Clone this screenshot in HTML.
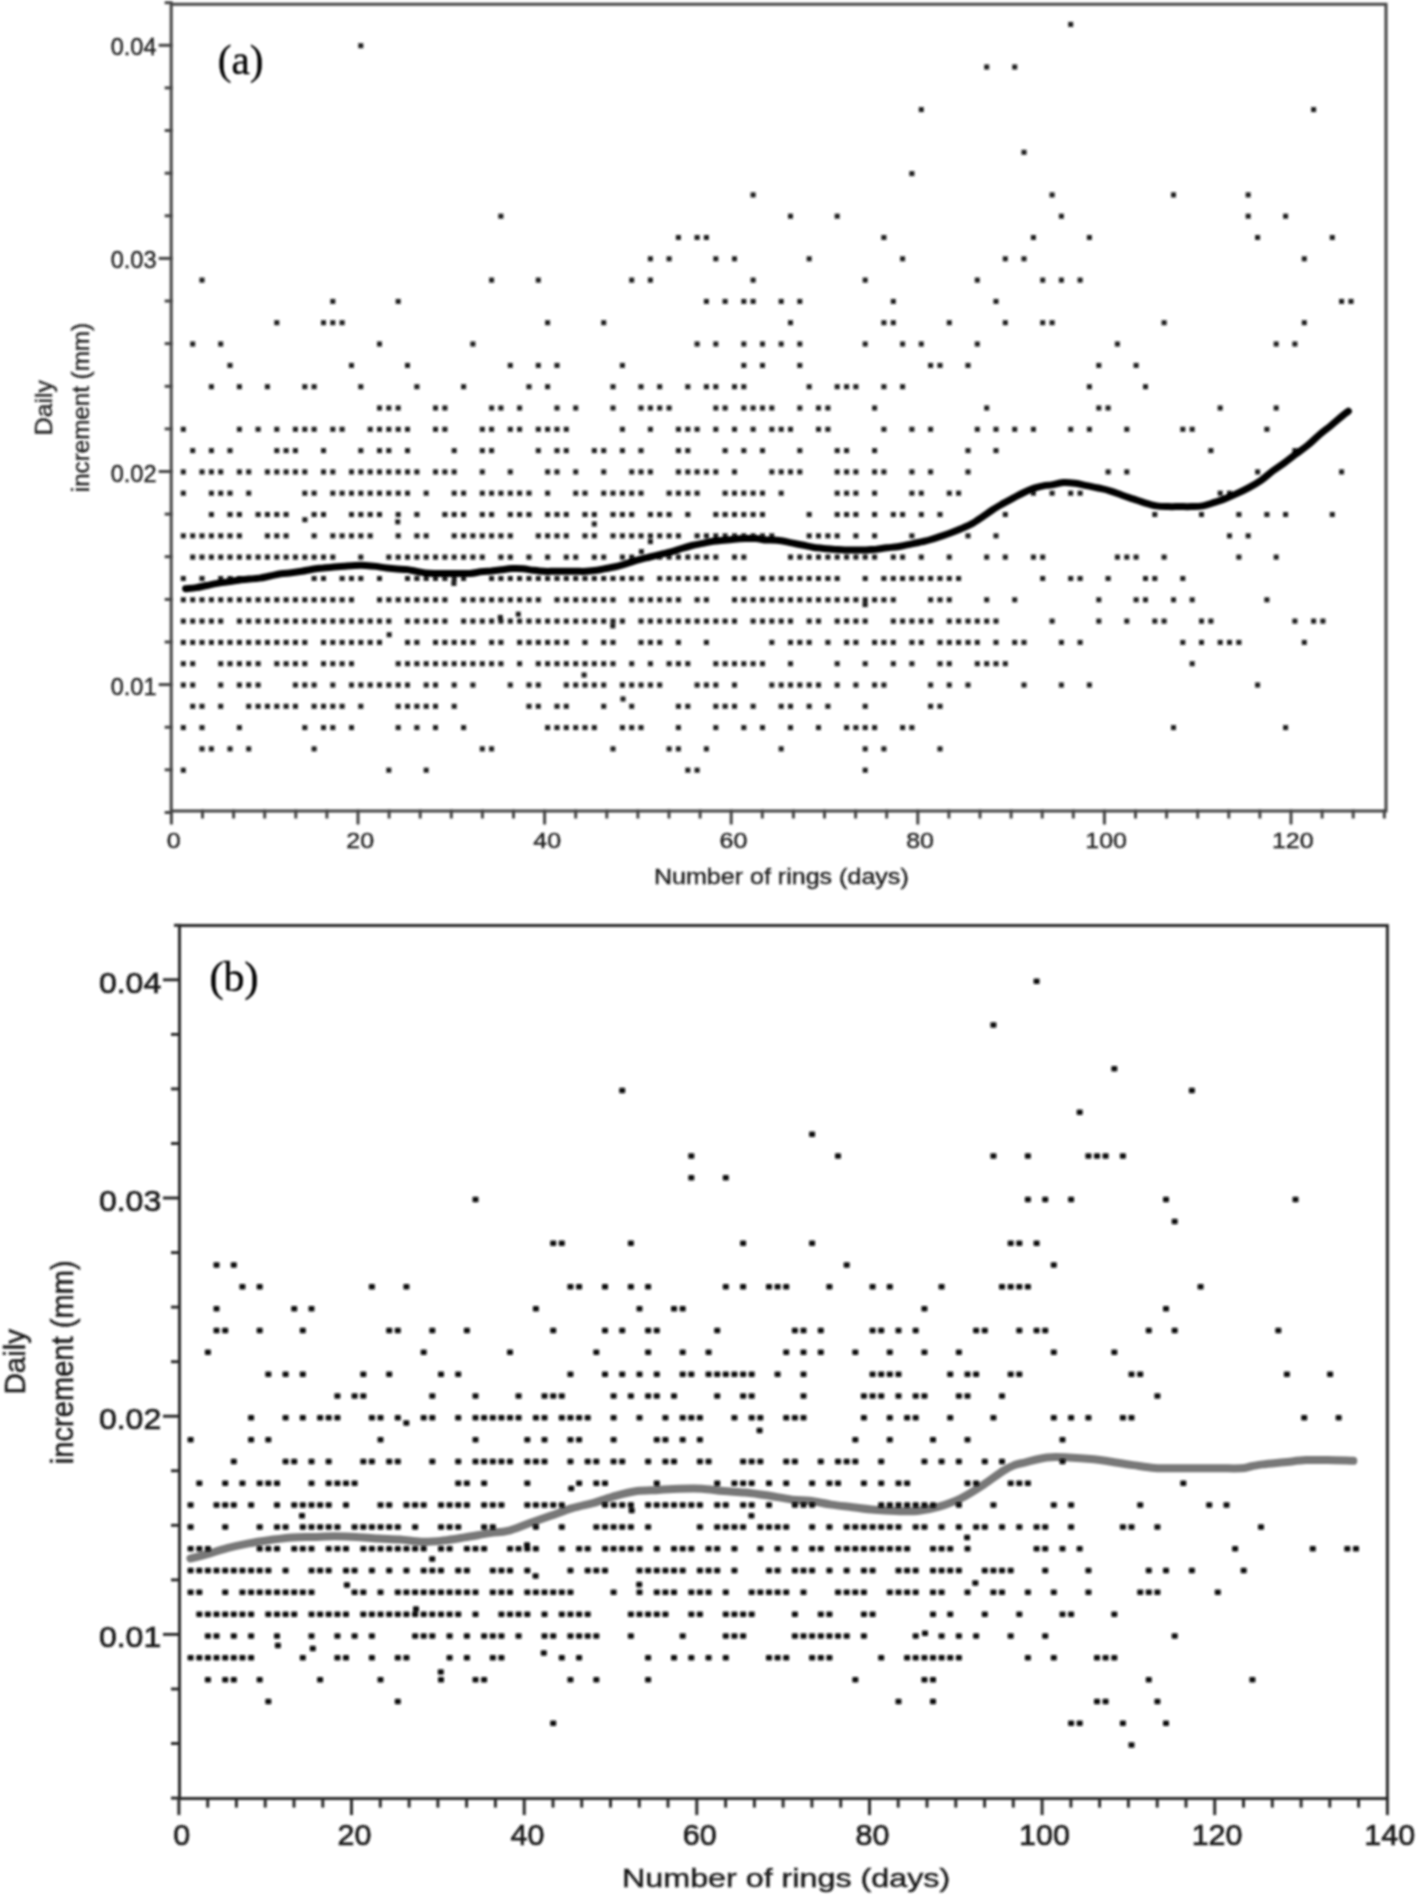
<!DOCTYPE html><html><head><meta charset="utf-8"><style>html,body{margin:0;padding:0;background:#fff;overflow:hidden}svg{display:block}</style></head><body>
<svg width="1418" height="1897" viewBox="0 0 1418 1897">
<defs><filter id="gblur" x="0" y="0" width="1418" height="1897" filterUnits="userSpaceOnUse"><feGaussianBlur stdDeviation="0.9"/></filter></defs>
<rect width="1418" height="1897" fill="#fff"/>
<g filter="url(#gblur)">
<g stroke="#444" stroke-width="3" fill="none" stroke-linecap="square">
<path d="M171.2,811.0 V4.3 H1386.0 V811.0 H171.2"/>
<line x1="166.2" y1="812.5" x2="171.2" y2="812.5"/>
<line x1="166.2" y1="769.8" x2="171.2" y2="769.8"/>
<line x1="166.2" y1="727.2" x2="171.2" y2="727.2"/>
<line x1="160.2" y1="684.6" x2="171.2" y2="684.6"/>
<line x1="166.2" y1="642.0" x2="171.2" y2="642.0"/>
<line x1="166.2" y1="599.4" x2="171.2" y2="599.4"/>
<line x1="166.2" y1="556.7" x2="171.2" y2="556.7"/>
<line x1="166.2" y1="514.1" x2="171.2" y2="514.1"/>
<line x1="160.2" y1="471.5" x2="171.2" y2="471.5"/>
<line x1="166.2" y1="428.9" x2="171.2" y2="428.9"/>
<line x1="166.2" y1="386.3" x2="171.2" y2="386.3"/>
<line x1="166.2" y1="343.6" x2="171.2" y2="343.6"/>
<line x1="166.2" y1="301.0" x2="171.2" y2="301.0"/>
<line x1="160.2" y1="258.4" x2="171.2" y2="258.4"/>
<line x1="166.2" y1="215.8" x2="171.2" y2="215.8"/>
<line x1="166.2" y1="173.2" x2="171.2" y2="173.2"/>
<line x1="166.2" y1="130.5" x2="171.2" y2="130.5"/>
<line x1="166.2" y1="87.9" x2="171.2" y2="87.9"/>
<line x1="160.2" y1="45.3" x2="171.2" y2="45.3"/>
<line x1="166.2" y1="2.7" x2="171.2" y2="2.7"/>
<line x1="171.4" y1="811.0" x2="171.4" y2="823.0"/>
<line x1="202.5" y1="811.0" x2="202.5" y2="817.0"/>
<line x1="233.6" y1="811.0" x2="233.6" y2="817.0"/>
<line x1="264.7" y1="811.0" x2="264.7" y2="817.0"/>
<line x1="295.8" y1="811.0" x2="295.8" y2="817.0"/>
<line x1="326.9" y1="811.0" x2="326.9" y2="817.0"/>
<line x1="358.0" y1="811.0" x2="358.0" y2="823.0"/>
<line x1="389.1" y1="811.0" x2="389.1" y2="817.0"/>
<line x1="420.2" y1="811.0" x2="420.2" y2="817.0"/>
<line x1="451.3" y1="811.0" x2="451.3" y2="817.0"/>
<line x1="482.4" y1="811.0" x2="482.4" y2="817.0"/>
<line x1="513.5" y1="811.0" x2="513.5" y2="817.0"/>
<line x1="544.6" y1="811.0" x2="544.6" y2="823.0"/>
<line x1="575.7" y1="811.0" x2="575.7" y2="817.0"/>
<line x1="606.8" y1="811.0" x2="606.8" y2="817.0"/>
<line x1="637.9" y1="811.0" x2="637.9" y2="817.0"/>
<line x1="669.0" y1="811.0" x2="669.0" y2="817.0"/>
<line x1="700.1" y1="811.0" x2="700.1" y2="817.0"/>
<line x1="731.2" y1="811.0" x2="731.2" y2="823.0"/>
<line x1="762.3" y1="811.0" x2="762.3" y2="817.0"/>
<line x1="793.4" y1="811.0" x2="793.4" y2="817.0"/>
<line x1="824.5" y1="811.0" x2="824.5" y2="817.0"/>
<line x1="855.6" y1="811.0" x2="855.6" y2="817.0"/>
<line x1="886.7" y1="811.0" x2="886.7" y2="817.0"/>
<line x1="917.8" y1="811.0" x2="917.8" y2="823.0"/>
<line x1="948.9" y1="811.0" x2="948.9" y2="817.0"/>
<line x1="980.0" y1="811.0" x2="980.0" y2="817.0"/>
<line x1="1011.1" y1="811.0" x2="1011.1" y2="817.0"/>
<line x1="1042.2" y1="811.0" x2="1042.2" y2="817.0"/>
<line x1="1073.3" y1="811.0" x2="1073.3" y2="817.0"/>
<line x1="1104.4" y1="811.0" x2="1104.4" y2="823.0"/>
<line x1="1135.5" y1="811.0" x2="1135.5" y2="817.0"/>
<line x1="1166.6" y1="811.0" x2="1166.6" y2="817.0"/>
<line x1="1197.7" y1="811.0" x2="1197.7" y2="817.0"/>
<line x1="1228.8" y1="811.0" x2="1228.8" y2="817.0"/>
<line x1="1259.9" y1="811.0" x2="1259.9" y2="817.0"/>
<line x1="1291.0" y1="811.0" x2="1291.0" y2="823.0"/>
<line x1="1322.1" y1="811.0" x2="1322.1" y2="817.0"/>
<line x1="1353.2" y1="811.0" x2="1353.2" y2="817.0"/>
<line x1="1384.3" y1="811.0" x2="1384.3" y2="817.0"/>
</g>
<text font-family="Liberation Sans" font-size="23.66" fill="#1a1a1a" stroke="#1a1a1a" stroke-width="0.35" transform="translate(110.66,694.66) scale(0.9952,1)" >0.01</text>
<text font-family="Liberation Sans" font-size="23.66" fill="#1a1a1a" stroke="#1a1a1a" stroke-width="0.35" transform="translate(110.66,481.56) scale(0.9952,1)" >0.02</text>
<text font-family="Liberation Sans" font-size="23.66" fill="#1a1a1a" stroke="#1a1a1a" stroke-width="0.35" transform="translate(110.66,268.46) scale(0.9952,1)" >0.03</text>
<text font-family="Liberation Sans" font-size="23.66" fill="#1a1a1a" stroke="#1a1a1a" stroke-width="0.35" transform="translate(110.66,55.36) scale(0.9952,1)" >0.04</text>
<text font-family="Liberation Sans" font-size="22.39" fill="#1a1a1a" stroke="#1a1a1a" stroke-width="0.35" transform="translate(166.70,848.48) scale(1.1164,1)" >0</text>
<text font-family="Liberation Sans" font-size="22.39" fill="#1a1a1a" stroke="#1a1a1a" stroke-width="0.35" transform="translate(346.30,848.48) scale(1.1164,1)" >20</text>
<text font-family="Liberation Sans" font-size="22.39" fill="#1a1a1a" stroke="#1a1a1a" stroke-width="0.35" transform="translate(533.27,848.48) scale(1.1164,1)" >40</text>
<text font-family="Liberation Sans" font-size="22.39" fill="#1a1a1a" stroke="#1a1a1a" stroke-width="0.35" transform="translate(719.50,848.48) scale(1.1164,1)" >60</text>
<text font-family="Liberation Sans" font-size="22.39" fill="#1a1a1a" stroke="#1a1a1a" stroke-width="0.35" transform="translate(906.22,848.48) scale(1.1164,1)" >80</text>
<text font-family="Liberation Sans" font-size="22.39" fill="#1a1a1a" stroke="#1a1a1a" stroke-width="0.35" transform="translate(1085.33,848.48) scale(1.1164,1)" >100</text>
<text font-family="Liberation Sans" font-size="22.39" fill="#1a1a1a" stroke="#1a1a1a" stroke-width="0.35" transform="translate(1271.92,848.48) scale(1.1164,1)" >120</text>
<text font-family="Liberation Sans" font-size="21.70" fill="#1a1a1a" stroke="#1a1a1a" stroke-width="0.35" transform="translate(653.89,884.04) scale(1.1549,1)" >Number of rings (days)</text>
<text font-family="Liberation Sans" font-size="23.40" fill="#1a1a1a" stroke="#1a1a1a" stroke-width="0.35" transform="translate(51.89,435.19) rotate(-90) scale(1.0602,1)" >Daily</text>
<text font-family="Liberation Sans" font-size="23.09" fill="#1a1a1a" stroke="#1a1a1a" stroke-width="0.35" transform="translate(89.35,492.19) rotate(-90) scale(1.0467,1)" >increment (mm)</text>
<text font-family="Liberation Serif" font-size="41.67" fill="#000" stroke="#000" stroke-width="0.35" transform="translate(217.65,74.25) scale(0.9903,1)" >(a)</text>
<g fill="#1a1a1a">
<rect x="358.3" y="43.2" width="5" height="5"/>
<rect x="498.4" y="213.7" width="5" height="5"/>
<rect x="750.6" y="192.4" width="5" height="5"/>
<rect x="675.9" y="235.0" width="5" height="5"/>
<rect x="694.6" y="235.0" width="5" height="5"/>
<rect x="703.9" y="235.0" width="5" height="5"/>
<rect x="647.9" y="256.3" width="5" height="5"/>
<rect x="666.6" y="256.3" width="5" height="5"/>
<rect x="713.3" y="256.3" width="5" height="5"/>
<rect x="732.0" y="256.3" width="5" height="5"/>
<rect x="1068.2" y="21.9" width="5" height="5"/>
<rect x="984.2" y="64.5" width="5" height="5"/>
<rect x="1012.2" y="64.5" width="5" height="5"/>
<rect x="918.8" y="107.1" width="5" height="5"/>
<rect x="1311.1" y="107.1" width="5" height="5"/>
<rect x="1021.5" y="149.8" width="5" height="5"/>
<rect x="909.4" y="171.1" width="5" height="5"/>
<rect x="1049.6" y="192.4" width="5" height="5"/>
<rect x="1171.0" y="192.4" width="5" height="5"/>
<rect x="1245.7" y="192.4" width="5" height="5"/>
<rect x="788.0" y="213.7" width="5" height="5"/>
<rect x="834.7" y="213.7" width="5" height="5"/>
<rect x="1058.9" y="213.7" width="5" height="5"/>
<rect x="1245.7" y="213.7" width="5" height="5"/>
<rect x="1283.1" y="213.7" width="5" height="5"/>
<rect x="881.4" y="235.0" width="5" height="5"/>
<rect x="1030.9" y="235.0" width="5" height="5"/>
<rect x="1086.9" y="235.0" width="5" height="5"/>
<rect x="1255.1" y="235.0" width="5" height="5"/>
<rect x="1329.8" y="235.0" width="5" height="5"/>
<rect x="806.7" y="256.3" width="5" height="5"/>
<rect x="900.1" y="256.3" width="5" height="5"/>
<rect x="1002.8" y="256.3" width="5" height="5"/>
<rect x="1021.5" y="256.3" width="5" height="5"/>
<rect x="1301.8" y="256.3" width="5" height="5"/>
<rect x="199.5" y="277.6" width="5" height="5"/>
<rect x="330.3" y="298.9" width="5" height="5"/>
<rect x="395.7" y="298.9" width="5" height="5"/>
<rect x="274.3" y="320.2" width="5" height="5"/>
<rect x="321.0" y="320.2" width="5" height="5"/>
<rect x="330.3" y="320.2" width="5" height="5"/>
<rect x="339.6" y="320.2" width="5" height="5"/>
<rect x="190.2" y="341.5" width="5" height="5"/>
<rect x="218.2" y="341.5" width="5" height="5"/>
<rect x="377.0" y="341.5" width="5" height="5"/>
<rect x="470.4" y="341.5" width="5" height="5"/>
<rect x="227.5" y="362.9" width="5" height="5"/>
<rect x="349.0" y="362.9" width="5" height="5"/>
<rect x="405.0" y="362.9" width="5" height="5"/>
<rect x="208.9" y="384.2" width="5" height="5"/>
<rect x="236.9" y="384.2" width="5" height="5"/>
<rect x="264.9" y="384.2" width="5" height="5"/>
<rect x="302.3" y="384.2" width="5" height="5"/>
<rect x="311.6" y="384.2" width="5" height="5"/>
<rect x="358.3" y="384.2" width="5" height="5"/>
<rect x="414.4" y="384.2" width="5" height="5"/>
<rect x="461.1" y="384.2" width="5" height="5"/>
<rect x="377.0" y="405.5" width="5" height="5"/>
<rect x="386.3" y="405.5" width="5" height="5"/>
<rect x="395.7" y="405.5" width="5" height="5"/>
<rect x="433.0" y="405.5" width="5" height="5"/>
<rect x="442.4" y="405.5" width="5" height="5"/>
<rect x="180.8" y="426.8" width="5" height="5"/>
<rect x="236.9" y="426.8" width="5" height="5"/>
<rect x="255.6" y="426.8" width="5" height="5"/>
<rect x="274.3" y="426.8" width="5" height="5"/>
<rect x="292.9" y="426.8" width="5" height="5"/>
<rect x="302.3" y="426.8" width="5" height="5"/>
<rect x="311.6" y="426.8" width="5" height="5"/>
<rect x="330.3" y="426.8" width="5" height="5"/>
<rect x="339.6" y="426.8" width="5" height="5"/>
<rect x="367.7" y="426.8" width="5" height="5"/>
<rect x="377.0" y="426.8" width="5" height="5"/>
<rect x="386.3" y="426.8" width="5" height="5"/>
<rect x="395.7" y="426.8" width="5" height="5"/>
<rect x="405.0" y="426.8" width="5" height="5"/>
<rect x="433.0" y="426.8" width="5" height="5"/>
<rect x="442.4" y="426.8" width="5" height="5"/>
<rect x="489.1" y="277.6" width="5" height="5"/>
<rect x="535.8" y="277.6" width="5" height="5"/>
<rect x="629.2" y="277.6" width="5" height="5"/>
<rect x="647.9" y="277.6" width="5" height="5"/>
<rect x="750.6" y="277.6" width="5" height="5"/>
<rect x="703.9" y="298.9" width="5" height="5"/>
<rect x="722.6" y="298.9" width="5" height="5"/>
<rect x="741.3" y="298.9" width="5" height="5"/>
<rect x="750.6" y="298.9" width="5" height="5"/>
<rect x="545.1" y="320.2" width="5" height="5"/>
<rect x="601.2" y="320.2" width="5" height="5"/>
<rect x="694.6" y="341.5" width="5" height="5"/>
<rect x="713.3" y="341.5" width="5" height="5"/>
<rect x="741.3" y="341.5" width="5" height="5"/>
<rect x="760.0" y="341.5" width="5" height="5"/>
<rect x="507.8" y="362.9" width="5" height="5"/>
<rect x="535.8" y="362.9" width="5" height="5"/>
<rect x="554.5" y="362.9" width="5" height="5"/>
<rect x="619.9" y="362.9" width="5" height="5"/>
<rect x="741.3" y="362.9" width="5" height="5"/>
<rect x="760.0" y="362.9" width="5" height="5"/>
<rect x="526.5" y="384.2" width="5" height="5"/>
<rect x="545.1" y="384.2" width="5" height="5"/>
<rect x="610.5" y="384.2" width="5" height="5"/>
<rect x="638.5" y="384.2" width="5" height="5"/>
<rect x="657.2" y="384.2" width="5" height="5"/>
<rect x="685.3" y="384.2" width="5" height="5"/>
<rect x="703.9" y="384.2" width="5" height="5"/>
<rect x="713.3" y="384.2" width="5" height="5"/>
<rect x="732.0" y="384.2" width="5" height="5"/>
<rect x="741.3" y="384.2" width="5" height="5"/>
<rect x="489.1" y="405.5" width="5" height="5"/>
<rect x="498.4" y="405.5" width="5" height="5"/>
<rect x="517.1" y="405.5" width="5" height="5"/>
<rect x="554.5" y="405.5" width="5" height="5"/>
<rect x="573.2" y="405.5" width="5" height="5"/>
<rect x="610.5" y="405.5" width="5" height="5"/>
<rect x="638.5" y="405.5" width="5" height="5"/>
<rect x="647.9" y="405.5" width="5" height="5"/>
<rect x="657.2" y="405.5" width="5" height="5"/>
<rect x="666.6" y="405.5" width="5" height="5"/>
<rect x="713.3" y="405.5" width="5" height="5"/>
<rect x="722.6" y="405.5" width="5" height="5"/>
<rect x="741.3" y="405.5" width="5" height="5"/>
<rect x="750.6" y="405.5" width="5" height="5"/>
<rect x="760.0" y="405.5" width="5" height="5"/>
<rect x="769.3" y="405.5" width="5" height="5"/>
<rect x="479.8" y="426.8" width="5" height="5"/>
<rect x="489.1" y="426.8" width="5" height="5"/>
<rect x="507.8" y="426.8" width="5" height="5"/>
<rect x="517.1" y="426.8" width="5" height="5"/>
<rect x="535.8" y="426.8" width="5" height="5"/>
<rect x="545.1" y="426.8" width="5" height="5"/>
<rect x="554.5" y="426.8" width="5" height="5"/>
<rect x="563.8" y="426.8" width="5" height="5"/>
<rect x="619.9" y="426.8" width="5" height="5"/>
<rect x="647.9" y="426.8" width="5" height="5"/>
<rect x="675.9" y="426.8" width="5" height="5"/>
<rect x="685.3" y="426.8" width="5" height="5"/>
<rect x="694.6" y="426.8" width="5" height="5"/>
<rect x="713.3" y="426.8" width="5" height="5"/>
<rect x="732.0" y="426.8" width="5" height="5"/>
<rect x="750.6" y="426.8" width="5" height="5"/>
<rect x="769.3" y="426.8" width="5" height="5"/>
<rect x="862.7" y="277.6" width="5" height="5"/>
<rect x="974.8" y="277.6" width="5" height="5"/>
<rect x="1040.2" y="277.6" width="5" height="5"/>
<rect x="1058.9" y="277.6" width="5" height="5"/>
<rect x="778.7" y="298.9" width="5" height="5"/>
<rect x="797.3" y="298.9" width="5" height="5"/>
<rect x="890.8" y="298.9" width="5" height="5"/>
<rect x="993.5" y="298.9" width="5" height="5"/>
<rect x="788.0" y="320.2" width="5" height="5"/>
<rect x="881.4" y="320.2" width="5" height="5"/>
<rect x="890.8" y="320.2" width="5" height="5"/>
<rect x="946.8" y="320.2" width="5" height="5"/>
<rect x="1002.8" y="320.2" width="5" height="5"/>
<rect x="1040.2" y="320.2" width="5" height="5"/>
<rect x="1049.6" y="320.2" width="5" height="5"/>
<rect x="778.7" y="341.5" width="5" height="5"/>
<rect x="797.3" y="341.5" width="5" height="5"/>
<rect x="862.7" y="341.5" width="5" height="5"/>
<rect x="900.1" y="341.5" width="5" height="5"/>
<rect x="918.8" y="341.5" width="5" height="5"/>
<rect x="974.8" y="341.5" width="5" height="5"/>
<rect x="797.3" y="362.9" width="5" height="5"/>
<rect x="928.1" y="362.9" width="5" height="5"/>
<rect x="937.5" y="362.9" width="5" height="5"/>
<rect x="965.5" y="362.9" width="5" height="5"/>
<rect x="806.7" y="384.2" width="5" height="5"/>
<rect x="834.7" y="384.2" width="5" height="5"/>
<rect x="844.1" y="384.2" width="5" height="5"/>
<rect x="853.4" y="384.2" width="5" height="5"/>
<rect x="881.4" y="384.2" width="5" height="5"/>
<rect x="900.1" y="384.2" width="5" height="5"/>
<rect x="797.3" y="405.5" width="5" height="5"/>
<rect x="816.0" y="405.5" width="5" height="5"/>
<rect x="825.4" y="405.5" width="5" height="5"/>
<rect x="872.1" y="405.5" width="5" height="5"/>
<rect x="984.2" y="405.5" width="5" height="5"/>
<rect x="778.7" y="426.8" width="5" height="5"/>
<rect x="788.0" y="426.8" width="5" height="5"/>
<rect x="816.0" y="426.8" width="5" height="5"/>
<rect x="825.4" y="426.8" width="5" height="5"/>
<rect x="881.4" y="426.8" width="5" height="5"/>
<rect x="909.4" y="426.8" width="5" height="5"/>
<rect x="928.1" y="426.8" width="5" height="5"/>
<rect x="974.8" y="426.8" width="5" height="5"/>
<rect x="993.5" y="426.8" width="5" height="5"/>
<rect x="1012.2" y="426.8" width="5" height="5"/>
<rect x="1030.9" y="426.8" width="5" height="5"/>
<rect x="1068.2" y="426.8" width="5" height="5"/>
<rect x="1077.6" y="277.6" width="5" height="5"/>
<rect x="1339.1" y="298.9" width="5" height="5"/>
<rect x="1348.5" y="298.9" width="5" height="5"/>
<rect x="1161.6" y="320.2" width="5" height="5"/>
<rect x="1301.8" y="320.2" width="5" height="5"/>
<rect x="1114.9" y="341.5" width="5" height="5"/>
<rect x="1273.7" y="341.5" width="5" height="5"/>
<rect x="1292.4" y="341.5" width="5" height="5"/>
<rect x="1096.3" y="362.9" width="5" height="5"/>
<rect x="1133.6" y="362.9" width="5" height="5"/>
<rect x="1086.9" y="384.2" width="5" height="5"/>
<rect x="1143.0" y="384.2" width="5" height="5"/>
<rect x="1096.3" y="405.5" width="5" height="5"/>
<rect x="1105.6" y="405.5" width="5" height="5"/>
<rect x="1217.7" y="405.5" width="5" height="5"/>
<rect x="1273.7" y="405.5" width="5" height="5"/>
<rect x="1086.9" y="426.8" width="5" height="5"/>
<rect x="1124.3" y="426.8" width="5" height="5"/>
<rect x="1180.3" y="426.8" width="5" height="5"/>
<rect x="1189.7" y="426.8" width="5" height="5"/>
<rect x="1264.4" y="426.8" width="5" height="5"/>
<rect x="190.2" y="448.1" width="5" height="5"/>
<rect x="208.9" y="448.1" width="5" height="5"/>
<rect x="227.5" y="448.1" width="5" height="5"/>
<rect x="274.3" y="448.1" width="5" height="5"/>
<rect x="283.6" y="448.1" width="5" height="5"/>
<rect x="292.9" y="448.1" width="5" height="5"/>
<rect x="321.0" y="448.1" width="5" height="5"/>
<rect x="358.3" y="448.1" width="5" height="5"/>
<rect x="377.0" y="448.1" width="5" height="5"/>
<rect x="386.3" y="448.1" width="5" height="5"/>
<rect x="405.0" y="448.1" width="5" height="5"/>
<rect x="451.7" y="448.1" width="5" height="5"/>
<rect x="180.8" y="469.4" width="5" height="5"/>
<rect x="199.5" y="469.4" width="5" height="5"/>
<rect x="208.9" y="469.4" width="5" height="5"/>
<rect x="218.2" y="469.4" width="5" height="5"/>
<rect x="236.9" y="469.4" width="5" height="5"/>
<rect x="246.2" y="469.4" width="5" height="5"/>
<rect x="264.9" y="469.4" width="5" height="5"/>
<rect x="274.3" y="469.4" width="5" height="5"/>
<rect x="283.6" y="469.4" width="5" height="5"/>
<rect x="292.9" y="469.4" width="5" height="5"/>
<rect x="302.3" y="469.4" width="5" height="5"/>
<rect x="321.0" y="469.4" width="5" height="5"/>
<rect x="330.3" y="469.4" width="5" height="5"/>
<rect x="349.0" y="469.4" width="5" height="5"/>
<rect x="358.3" y="469.4" width="5" height="5"/>
<rect x="367.7" y="469.4" width="5" height="5"/>
<rect x="377.0" y="469.4" width="5" height="5"/>
<rect x="386.3" y="469.4" width="5" height="5"/>
<rect x="395.7" y="469.4" width="5" height="5"/>
<rect x="405.0" y="469.4" width="5" height="5"/>
<rect x="414.4" y="469.4" width="5" height="5"/>
<rect x="433.0" y="469.4" width="5" height="5"/>
<rect x="442.4" y="469.4" width="5" height="5"/>
<rect x="451.7" y="469.4" width="5" height="5"/>
<rect x="180.8" y="490.7" width="5" height="5"/>
<rect x="208.9" y="490.7" width="5" height="5"/>
<rect x="218.2" y="490.7" width="5" height="5"/>
<rect x="227.5" y="490.7" width="5" height="5"/>
<rect x="246.2" y="490.7" width="5" height="5"/>
<rect x="302.3" y="490.7" width="5" height="5"/>
<rect x="311.6" y="490.7" width="5" height="5"/>
<rect x="330.3" y="490.7" width="5" height="5"/>
<rect x="339.6" y="490.7" width="5" height="5"/>
<rect x="349.0" y="490.7" width="5" height="5"/>
<rect x="358.3" y="490.7" width="5" height="5"/>
<rect x="367.7" y="490.7" width="5" height="5"/>
<rect x="377.0" y="490.7" width="5" height="5"/>
<rect x="386.3" y="490.7" width="5" height="5"/>
<rect x="395.7" y="490.7" width="5" height="5"/>
<rect x="405.0" y="490.7" width="5" height="5"/>
<rect x="423.7" y="490.7" width="5" height="5"/>
<rect x="451.7" y="490.7" width="5" height="5"/>
<rect x="461.1" y="490.7" width="5" height="5"/>
<rect x="208.9" y="512.0" width="5" height="5"/>
<rect x="227.5" y="512.0" width="5" height="5"/>
<rect x="236.9" y="512.0" width="5" height="5"/>
<rect x="255.6" y="512.0" width="5" height="5"/>
<rect x="264.9" y="512.0" width="5" height="5"/>
<rect x="274.3" y="512.0" width="5" height="5"/>
<rect x="283.6" y="512.0" width="5" height="5"/>
<rect x="311.6" y="512.0" width="5" height="5"/>
<rect x="321.0" y="512.0" width="5" height="5"/>
<rect x="349.0" y="512.0" width="5" height="5"/>
<rect x="358.3" y="512.0" width="5" height="5"/>
<rect x="367.7" y="512.0" width="5" height="5"/>
<rect x="377.0" y="512.0" width="5" height="5"/>
<rect x="395.7" y="512.0" width="5" height="5"/>
<rect x="414.4" y="512.0" width="5" height="5"/>
<rect x="442.4" y="512.0" width="5" height="5"/>
<rect x="451.7" y="512.0" width="5" height="5"/>
<rect x="461.1" y="512.0" width="5" height="5"/>
<rect x="180.8" y="533.3" width="5" height="5"/>
<rect x="190.2" y="533.3" width="5" height="5"/>
<rect x="199.5" y="533.3" width="5" height="5"/>
<rect x="208.9" y="533.3" width="5" height="5"/>
<rect x="218.2" y="533.3" width="5" height="5"/>
<rect x="227.5" y="533.3" width="5" height="5"/>
<rect x="236.9" y="533.3" width="5" height="5"/>
<rect x="264.9" y="533.3" width="5" height="5"/>
<rect x="274.3" y="533.3" width="5" height="5"/>
<rect x="283.6" y="533.3" width="5" height="5"/>
<rect x="311.6" y="533.3" width="5" height="5"/>
<rect x="330.3" y="533.3" width="5" height="5"/>
<rect x="339.6" y="533.3" width="5" height="5"/>
<rect x="349.0" y="533.3" width="5" height="5"/>
<rect x="358.3" y="533.3" width="5" height="5"/>
<rect x="367.7" y="533.3" width="5" height="5"/>
<rect x="395.7" y="533.3" width="5" height="5"/>
<rect x="414.4" y="533.3" width="5" height="5"/>
<rect x="423.7" y="533.3" width="5" height="5"/>
<rect x="451.7" y="533.3" width="5" height="5"/>
<rect x="461.1" y="533.3" width="5" height="5"/>
<rect x="470.4" y="533.3" width="5" height="5"/>
<rect x="190.2" y="554.6" width="5" height="5"/>
<rect x="199.5" y="554.6" width="5" height="5"/>
<rect x="208.9" y="554.6" width="5" height="5"/>
<rect x="218.2" y="554.6" width="5" height="5"/>
<rect x="227.5" y="554.6" width="5" height="5"/>
<rect x="236.9" y="554.6" width="5" height="5"/>
<rect x="246.2" y="554.6" width="5" height="5"/>
<rect x="255.6" y="554.6" width="5" height="5"/>
<rect x="264.9" y="554.6" width="5" height="5"/>
<rect x="274.3" y="554.6" width="5" height="5"/>
<rect x="283.6" y="554.6" width="5" height="5"/>
<rect x="292.9" y="554.6" width="5" height="5"/>
<rect x="302.3" y="554.6" width="5" height="5"/>
<rect x="311.6" y="554.6" width="5" height="5"/>
<rect x="321.0" y="554.6" width="5" height="5"/>
<rect x="330.3" y="554.6" width="5" height="5"/>
<rect x="358.3" y="554.6" width="5" height="5"/>
<rect x="386.3" y="554.6" width="5" height="5"/>
<rect x="395.7" y="554.6" width="5" height="5"/>
<rect x="405.0" y="554.6" width="5" height="5"/>
<rect x="414.4" y="554.6" width="5" height="5"/>
<rect x="423.7" y="554.6" width="5" height="5"/>
<rect x="433.0" y="554.6" width="5" height="5"/>
<rect x="442.4" y="554.6" width="5" height="5"/>
<rect x="451.7" y="554.6" width="5" height="5"/>
<rect x="461.1" y="554.6" width="5" height="5"/>
<rect x="470.4" y="554.6" width="5" height="5"/>
<rect x="180.8" y="576.0" width="5" height="5"/>
<rect x="199.5" y="576.0" width="5" height="5"/>
<rect x="218.2" y="576.0" width="5" height="5"/>
<rect x="227.5" y="576.0" width="5" height="5"/>
<rect x="236.9" y="576.0" width="5" height="5"/>
<rect x="311.6" y="576.0" width="5" height="5"/>
<rect x="321.0" y="576.0" width="5" height="5"/>
<rect x="339.6" y="576.0" width="5" height="5"/>
<rect x="349.0" y="576.0" width="5" height="5"/>
<rect x="358.3" y="576.0" width="5" height="5"/>
<rect x="377.0" y="576.0" width="5" height="5"/>
<rect x="405.0" y="576.0" width="5" height="5"/>
<rect x="414.4" y="576.0" width="5" height="5"/>
<rect x="423.7" y="576.0" width="5" height="5"/>
<rect x="433.0" y="576.0" width="5" height="5"/>
<rect x="442.4" y="576.0" width="5" height="5"/>
<rect x="451.7" y="576.0" width="5" height="5"/>
<rect x="461.1" y="576.0" width="5" height="5"/>
<rect x="180.8" y="597.3" width="5" height="5"/>
<rect x="190.2" y="597.3" width="5" height="5"/>
<rect x="199.5" y="597.3" width="5" height="5"/>
<rect x="208.9" y="597.3" width="5" height="5"/>
<rect x="218.2" y="597.3" width="5" height="5"/>
<rect x="227.5" y="597.3" width="5" height="5"/>
<rect x="236.9" y="597.3" width="5" height="5"/>
<rect x="246.2" y="597.3" width="5" height="5"/>
<rect x="255.6" y="597.3" width="5" height="5"/>
<rect x="264.9" y="597.3" width="5" height="5"/>
<rect x="274.3" y="597.3" width="5" height="5"/>
<rect x="283.6" y="597.3" width="5" height="5"/>
<rect x="292.9" y="597.3" width="5" height="5"/>
<rect x="302.3" y="597.3" width="5" height="5"/>
<rect x="311.6" y="597.3" width="5" height="5"/>
<rect x="321.0" y="597.3" width="5" height="5"/>
<rect x="330.3" y="597.3" width="5" height="5"/>
<rect x="339.6" y="597.3" width="5" height="5"/>
<rect x="349.0" y="597.3" width="5" height="5"/>
<rect x="377.0" y="597.3" width="5" height="5"/>
<rect x="386.3" y="597.3" width="5" height="5"/>
<rect x="395.7" y="597.3" width="5" height="5"/>
<rect x="405.0" y="597.3" width="5" height="5"/>
<rect x="414.4" y="597.3" width="5" height="5"/>
<rect x="423.7" y="597.3" width="5" height="5"/>
<rect x="433.0" y="597.3" width="5" height="5"/>
<rect x="442.4" y="597.3" width="5" height="5"/>
<rect x="461.1" y="597.3" width="5" height="5"/>
<rect x="470.4" y="597.3" width="5" height="5"/>
<rect x="180.8" y="618.6" width="5" height="5"/>
<rect x="190.2" y="618.6" width="5" height="5"/>
<rect x="199.5" y="618.6" width="5" height="5"/>
<rect x="208.9" y="618.6" width="5" height="5"/>
<rect x="218.2" y="618.6" width="5" height="5"/>
<rect x="236.9" y="618.6" width="5" height="5"/>
<rect x="246.2" y="618.6" width="5" height="5"/>
<rect x="255.6" y="618.6" width="5" height="5"/>
<rect x="264.9" y="618.6" width="5" height="5"/>
<rect x="274.3" y="618.6" width="5" height="5"/>
<rect x="283.6" y="618.6" width="5" height="5"/>
<rect x="292.9" y="618.6" width="5" height="5"/>
<rect x="302.3" y="618.6" width="5" height="5"/>
<rect x="311.6" y="618.6" width="5" height="5"/>
<rect x="321.0" y="618.6" width="5" height="5"/>
<rect x="330.3" y="618.6" width="5" height="5"/>
<rect x="339.6" y="618.6" width="5" height="5"/>
<rect x="349.0" y="618.6" width="5" height="5"/>
<rect x="358.3" y="618.6" width="5" height="5"/>
<rect x="367.7" y="618.6" width="5" height="5"/>
<rect x="377.0" y="618.6" width="5" height="5"/>
<rect x="386.3" y="618.6" width="5" height="5"/>
<rect x="405.0" y="618.6" width="5" height="5"/>
<rect x="414.4" y="618.6" width="5" height="5"/>
<rect x="423.7" y="618.6" width="5" height="5"/>
<rect x="433.0" y="618.6" width="5" height="5"/>
<rect x="442.4" y="618.6" width="5" height="5"/>
<rect x="461.1" y="618.6" width="5" height="5"/>
<rect x="470.4" y="618.6" width="5" height="5"/>
<rect x="479.8" y="448.1" width="5" height="5"/>
<rect x="489.1" y="448.1" width="5" height="5"/>
<rect x="535.8" y="448.1" width="5" height="5"/>
<rect x="554.5" y="448.1" width="5" height="5"/>
<rect x="563.8" y="448.1" width="5" height="5"/>
<rect x="591.8" y="448.1" width="5" height="5"/>
<rect x="601.2" y="448.1" width="5" height="5"/>
<rect x="619.9" y="448.1" width="5" height="5"/>
<rect x="638.5" y="448.1" width="5" height="5"/>
<rect x="675.9" y="448.1" width="5" height="5"/>
<rect x="685.3" y="448.1" width="5" height="5"/>
<rect x="722.6" y="448.1" width="5" height="5"/>
<rect x="741.3" y="448.1" width="5" height="5"/>
<rect x="760.0" y="448.1" width="5" height="5"/>
<rect x="479.8" y="469.4" width="5" height="5"/>
<rect x="507.8" y="469.4" width="5" height="5"/>
<rect x="545.1" y="469.4" width="5" height="5"/>
<rect x="554.5" y="469.4" width="5" height="5"/>
<rect x="573.2" y="469.4" width="5" height="5"/>
<rect x="601.2" y="469.4" width="5" height="5"/>
<rect x="629.2" y="469.4" width="5" height="5"/>
<rect x="638.5" y="469.4" width="5" height="5"/>
<rect x="647.9" y="469.4" width="5" height="5"/>
<rect x="675.9" y="469.4" width="5" height="5"/>
<rect x="685.3" y="469.4" width="5" height="5"/>
<rect x="694.6" y="469.4" width="5" height="5"/>
<rect x="703.9" y="469.4" width="5" height="5"/>
<rect x="713.3" y="469.4" width="5" height="5"/>
<rect x="732.0" y="469.4" width="5" height="5"/>
<rect x="769.3" y="469.4" width="5" height="5"/>
<rect x="479.8" y="490.7" width="5" height="5"/>
<rect x="489.1" y="490.7" width="5" height="5"/>
<rect x="498.4" y="490.7" width="5" height="5"/>
<rect x="507.8" y="490.7" width="5" height="5"/>
<rect x="517.1" y="490.7" width="5" height="5"/>
<rect x="526.5" y="490.7" width="5" height="5"/>
<rect x="545.1" y="490.7" width="5" height="5"/>
<rect x="573.2" y="490.7" width="5" height="5"/>
<rect x="582.5" y="490.7" width="5" height="5"/>
<rect x="601.2" y="490.7" width="5" height="5"/>
<rect x="610.5" y="490.7" width="5" height="5"/>
<rect x="619.9" y="490.7" width="5" height="5"/>
<rect x="629.2" y="490.7" width="5" height="5"/>
<rect x="638.5" y="490.7" width="5" height="5"/>
<rect x="666.6" y="490.7" width="5" height="5"/>
<rect x="675.9" y="490.7" width="5" height="5"/>
<rect x="685.3" y="490.7" width="5" height="5"/>
<rect x="694.6" y="490.7" width="5" height="5"/>
<rect x="722.6" y="490.7" width="5" height="5"/>
<rect x="732.0" y="490.7" width="5" height="5"/>
<rect x="741.3" y="490.7" width="5" height="5"/>
<rect x="750.6" y="490.7" width="5" height="5"/>
<rect x="760.0" y="490.7" width="5" height="5"/>
<rect x="479.8" y="512.0" width="5" height="5"/>
<rect x="489.1" y="512.0" width="5" height="5"/>
<rect x="507.8" y="512.0" width="5" height="5"/>
<rect x="517.1" y="512.0" width="5" height="5"/>
<rect x="526.5" y="512.0" width="5" height="5"/>
<rect x="545.1" y="512.0" width="5" height="5"/>
<rect x="554.5" y="512.0" width="5" height="5"/>
<rect x="563.8" y="512.0" width="5" height="5"/>
<rect x="582.5" y="512.0" width="5" height="5"/>
<rect x="591.8" y="512.0" width="5" height="5"/>
<rect x="610.5" y="512.0" width="5" height="5"/>
<rect x="619.9" y="512.0" width="5" height="5"/>
<rect x="629.2" y="512.0" width="5" height="5"/>
<rect x="647.9" y="512.0" width="5" height="5"/>
<rect x="657.2" y="512.0" width="5" height="5"/>
<rect x="666.6" y="512.0" width="5" height="5"/>
<rect x="685.3" y="512.0" width="5" height="5"/>
<rect x="713.3" y="512.0" width="5" height="5"/>
<rect x="722.6" y="512.0" width="5" height="5"/>
<rect x="732.0" y="512.0" width="5" height="5"/>
<rect x="741.3" y="512.0" width="5" height="5"/>
<rect x="750.6" y="512.0" width="5" height="5"/>
<rect x="760.0" y="512.0" width="5" height="5"/>
<rect x="479.8" y="533.3" width="5" height="5"/>
<rect x="489.1" y="533.3" width="5" height="5"/>
<rect x="498.4" y="533.3" width="5" height="5"/>
<rect x="507.8" y="533.3" width="5" height="5"/>
<rect x="535.8" y="533.3" width="5" height="5"/>
<rect x="545.1" y="533.3" width="5" height="5"/>
<rect x="554.5" y="533.3" width="5" height="5"/>
<rect x="563.8" y="533.3" width="5" height="5"/>
<rect x="582.5" y="533.3" width="5" height="5"/>
<rect x="591.8" y="533.3" width="5" height="5"/>
<rect x="610.5" y="533.3" width="5" height="5"/>
<rect x="619.9" y="533.3" width="5" height="5"/>
<rect x="629.2" y="533.3" width="5" height="5"/>
<rect x="638.5" y="533.3" width="5" height="5"/>
<rect x="647.9" y="533.3" width="5" height="5"/>
<rect x="657.2" y="533.3" width="5" height="5"/>
<rect x="666.6" y="533.3" width="5" height="5"/>
<rect x="675.9" y="533.3" width="5" height="5"/>
<rect x="694.6" y="533.3" width="5" height="5"/>
<rect x="703.9" y="533.3" width="5" height="5"/>
<rect x="713.3" y="533.3" width="5" height="5"/>
<rect x="722.6" y="533.3" width="5" height="5"/>
<rect x="732.0" y="533.3" width="5" height="5"/>
<rect x="741.3" y="533.3" width="5" height="5"/>
<rect x="750.6" y="533.3" width="5" height="5"/>
<rect x="760.0" y="533.3" width="5" height="5"/>
<rect x="769.3" y="533.3" width="5" height="5"/>
<rect x="479.8" y="554.6" width="5" height="5"/>
<rect x="498.4" y="554.6" width="5" height="5"/>
<rect x="507.8" y="554.6" width="5" height="5"/>
<rect x="526.5" y="554.6" width="5" height="5"/>
<rect x="545.1" y="554.6" width="5" height="5"/>
<rect x="563.8" y="554.6" width="5" height="5"/>
<rect x="573.2" y="554.6" width="5" height="5"/>
<rect x="591.8" y="554.6" width="5" height="5"/>
<rect x="601.2" y="554.6" width="5" height="5"/>
<rect x="619.9" y="554.6" width="5" height="5"/>
<rect x="629.2" y="554.6" width="5" height="5"/>
<rect x="647.9" y="554.6" width="5" height="5"/>
<rect x="657.2" y="554.6" width="5" height="5"/>
<rect x="666.6" y="554.6" width="5" height="5"/>
<rect x="675.9" y="554.6" width="5" height="5"/>
<rect x="685.3" y="554.6" width="5" height="5"/>
<rect x="694.6" y="554.6" width="5" height="5"/>
<rect x="703.9" y="554.6" width="5" height="5"/>
<rect x="713.3" y="554.6" width="5" height="5"/>
<rect x="732.0" y="554.6" width="5" height="5"/>
<rect x="741.3" y="554.6" width="5" height="5"/>
<rect x="489.1" y="576.0" width="5" height="5"/>
<rect x="498.4" y="576.0" width="5" height="5"/>
<rect x="507.8" y="576.0" width="5" height="5"/>
<rect x="517.1" y="576.0" width="5" height="5"/>
<rect x="526.5" y="576.0" width="5" height="5"/>
<rect x="535.8" y="576.0" width="5" height="5"/>
<rect x="545.1" y="576.0" width="5" height="5"/>
<rect x="554.5" y="576.0" width="5" height="5"/>
<rect x="563.8" y="576.0" width="5" height="5"/>
<rect x="573.2" y="576.0" width="5" height="5"/>
<rect x="582.5" y="576.0" width="5" height="5"/>
<rect x="591.8" y="576.0" width="5" height="5"/>
<rect x="601.2" y="576.0" width="5" height="5"/>
<rect x="610.5" y="576.0" width="5" height="5"/>
<rect x="619.9" y="576.0" width="5" height="5"/>
<rect x="629.2" y="576.0" width="5" height="5"/>
<rect x="638.5" y="576.0" width="5" height="5"/>
<rect x="657.2" y="576.0" width="5" height="5"/>
<rect x="666.6" y="576.0" width="5" height="5"/>
<rect x="675.9" y="576.0" width="5" height="5"/>
<rect x="685.3" y="576.0" width="5" height="5"/>
<rect x="694.6" y="576.0" width="5" height="5"/>
<rect x="703.9" y="576.0" width="5" height="5"/>
<rect x="713.3" y="576.0" width="5" height="5"/>
<rect x="732.0" y="576.0" width="5" height="5"/>
<rect x="741.3" y="576.0" width="5" height="5"/>
<rect x="760.0" y="576.0" width="5" height="5"/>
<rect x="769.3" y="576.0" width="5" height="5"/>
<rect x="479.8" y="597.3" width="5" height="5"/>
<rect x="489.1" y="597.3" width="5" height="5"/>
<rect x="498.4" y="597.3" width="5" height="5"/>
<rect x="507.8" y="597.3" width="5" height="5"/>
<rect x="517.1" y="597.3" width="5" height="5"/>
<rect x="526.5" y="597.3" width="5" height="5"/>
<rect x="535.8" y="597.3" width="5" height="5"/>
<rect x="554.5" y="597.3" width="5" height="5"/>
<rect x="563.8" y="597.3" width="5" height="5"/>
<rect x="573.2" y="597.3" width="5" height="5"/>
<rect x="582.5" y="597.3" width="5" height="5"/>
<rect x="591.8" y="597.3" width="5" height="5"/>
<rect x="601.2" y="597.3" width="5" height="5"/>
<rect x="610.5" y="597.3" width="5" height="5"/>
<rect x="629.2" y="597.3" width="5" height="5"/>
<rect x="638.5" y="597.3" width="5" height="5"/>
<rect x="647.9" y="597.3" width="5" height="5"/>
<rect x="657.2" y="597.3" width="5" height="5"/>
<rect x="666.6" y="597.3" width="5" height="5"/>
<rect x="675.9" y="597.3" width="5" height="5"/>
<rect x="694.6" y="597.3" width="5" height="5"/>
<rect x="703.9" y="597.3" width="5" height="5"/>
<rect x="732.0" y="597.3" width="5" height="5"/>
<rect x="741.3" y="597.3" width="5" height="5"/>
<rect x="750.6" y="597.3" width="5" height="5"/>
<rect x="760.0" y="597.3" width="5" height="5"/>
<rect x="769.3" y="597.3" width="5" height="5"/>
<rect x="479.8" y="618.6" width="5" height="5"/>
<rect x="489.1" y="618.6" width="5" height="5"/>
<rect x="498.4" y="618.6" width="5" height="5"/>
<rect x="507.8" y="618.6" width="5" height="5"/>
<rect x="517.1" y="618.6" width="5" height="5"/>
<rect x="526.5" y="618.6" width="5" height="5"/>
<rect x="535.8" y="618.6" width="5" height="5"/>
<rect x="545.1" y="618.6" width="5" height="5"/>
<rect x="554.5" y="618.6" width="5" height="5"/>
<rect x="563.8" y="618.6" width="5" height="5"/>
<rect x="573.2" y="618.6" width="5" height="5"/>
<rect x="582.5" y="618.6" width="5" height="5"/>
<rect x="591.8" y="618.6" width="5" height="5"/>
<rect x="601.2" y="618.6" width="5" height="5"/>
<rect x="610.5" y="618.6" width="5" height="5"/>
<rect x="619.9" y="618.6" width="5" height="5"/>
<rect x="638.5" y="618.6" width="5" height="5"/>
<rect x="647.9" y="618.6" width="5" height="5"/>
<rect x="657.2" y="618.6" width="5" height="5"/>
<rect x="666.6" y="618.6" width="5" height="5"/>
<rect x="675.9" y="618.6" width="5" height="5"/>
<rect x="685.3" y="618.6" width="5" height="5"/>
<rect x="694.6" y="618.6" width="5" height="5"/>
<rect x="703.9" y="618.6" width="5" height="5"/>
<rect x="713.3" y="618.6" width="5" height="5"/>
<rect x="722.6" y="618.6" width="5" height="5"/>
<rect x="732.0" y="618.6" width="5" height="5"/>
<rect x="750.6" y="618.6" width="5" height="5"/>
<rect x="760.0" y="618.6" width="5" height="5"/>
<rect x="769.3" y="618.6" width="5" height="5"/>
<rect x="797.3" y="448.1" width="5" height="5"/>
<rect x="834.7" y="448.1" width="5" height="5"/>
<rect x="844.1" y="448.1" width="5" height="5"/>
<rect x="872.1" y="448.1" width="5" height="5"/>
<rect x="965.5" y="448.1" width="5" height="5"/>
<rect x="993.5" y="448.1" width="5" height="5"/>
<rect x="778.7" y="469.4" width="5" height="5"/>
<rect x="788.0" y="469.4" width="5" height="5"/>
<rect x="797.3" y="469.4" width="5" height="5"/>
<rect x="834.7" y="469.4" width="5" height="5"/>
<rect x="844.1" y="469.4" width="5" height="5"/>
<rect x="853.4" y="469.4" width="5" height="5"/>
<rect x="872.1" y="469.4" width="5" height="5"/>
<rect x="881.4" y="469.4" width="5" height="5"/>
<rect x="909.4" y="469.4" width="5" height="5"/>
<rect x="928.1" y="469.4" width="5" height="5"/>
<rect x="965.5" y="469.4" width="5" height="5"/>
<rect x="778.7" y="490.7" width="5" height="5"/>
<rect x="834.7" y="490.7" width="5" height="5"/>
<rect x="844.1" y="490.7" width="5" height="5"/>
<rect x="853.4" y="490.7" width="5" height="5"/>
<rect x="872.1" y="490.7" width="5" height="5"/>
<rect x="909.4" y="490.7" width="5" height="5"/>
<rect x="918.8" y="490.7" width="5" height="5"/>
<rect x="946.8" y="490.7" width="5" height="5"/>
<rect x="956.1" y="490.7" width="5" height="5"/>
<rect x="1030.9" y="490.7" width="5" height="5"/>
<rect x="1049.6" y="490.7" width="5" height="5"/>
<rect x="1068.2" y="490.7" width="5" height="5"/>
<rect x="806.7" y="512.0" width="5" height="5"/>
<rect x="834.7" y="512.0" width="5" height="5"/>
<rect x="844.1" y="512.0" width="5" height="5"/>
<rect x="853.4" y="512.0" width="5" height="5"/>
<rect x="872.1" y="512.0" width="5" height="5"/>
<rect x="890.8" y="512.0" width="5" height="5"/>
<rect x="900.1" y="512.0" width="5" height="5"/>
<rect x="918.8" y="512.0" width="5" height="5"/>
<rect x="937.5" y="512.0" width="5" height="5"/>
<rect x="1002.8" y="512.0" width="5" height="5"/>
<rect x="806.7" y="533.3" width="5" height="5"/>
<rect x="816.0" y="533.3" width="5" height="5"/>
<rect x="825.4" y="533.3" width="5" height="5"/>
<rect x="834.7" y="533.3" width="5" height="5"/>
<rect x="853.4" y="533.3" width="5" height="5"/>
<rect x="872.1" y="533.3" width="5" height="5"/>
<rect x="909.4" y="533.3" width="5" height="5"/>
<rect x="965.5" y="533.3" width="5" height="5"/>
<rect x="993.5" y="533.3" width="5" height="5"/>
<rect x="788.0" y="554.6" width="5" height="5"/>
<rect x="797.3" y="554.6" width="5" height="5"/>
<rect x="806.7" y="554.6" width="5" height="5"/>
<rect x="816.0" y="554.6" width="5" height="5"/>
<rect x="825.4" y="554.6" width="5" height="5"/>
<rect x="834.7" y="554.6" width="5" height="5"/>
<rect x="844.1" y="554.6" width="5" height="5"/>
<rect x="853.4" y="554.6" width="5" height="5"/>
<rect x="862.7" y="554.6" width="5" height="5"/>
<rect x="872.1" y="554.6" width="5" height="5"/>
<rect x="890.8" y="554.6" width="5" height="5"/>
<rect x="900.1" y="554.6" width="5" height="5"/>
<rect x="918.8" y="554.6" width="5" height="5"/>
<rect x="946.8" y="554.6" width="5" height="5"/>
<rect x="984.2" y="554.6" width="5" height="5"/>
<rect x="1002.8" y="554.6" width="5" height="5"/>
<rect x="1030.9" y="554.6" width="5" height="5"/>
<rect x="1040.2" y="554.6" width="5" height="5"/>
<rect x="778.7" y="576.0" width="5" height="5"/>
<rect x="788.0" y="576.0" width="5" height="5"/>
<rect x="797.3" y="576.0" width="5" height="5"/>
<rect x="806.7" y="576.0" width="5" height="5"/>
<rect x="816.0" y="576.0" width="5" height="5"/>
<rect x="825.4" y="576.0" width="5" height="5"/>
<rect x="834.7" y="576.0" width="5" height="5"/>
<rect x="862.7" y="576.0" width="5" height="5"/>
<rect x="881.4" y="576.0" width="5" height="5"/>
<rect x="890.8" y="576.0" width="5" height="5"/>
<rect x="900.1" y="576.0" width="5" height="5"/>
<rect x="909.4" y="576.0" width="5" height="5"/>
<rect x="918.8" y="576.0" width="5" height="5"/>
<rect x="928.1" y="576.0" width="5" height="5"/>
<rect x="937.5" y="576.0" width="5" height="5"/>
<rect x="946.8" y="576.0" width="5" height="5"/>
<rect x="956.1" y="576.0" width="5" height="5"/>
<rect x="1040.2" y="576.0" width="5" height="5"/>
<rect x="1068.2" y="576.0" width="5" height="5"/>
<rect x="778.7" y="597.3" width="5" height="5"/>
<rect x="788.0" y="597.3" width="5" height="5"/>
<rect x="797.3" y="597.3" width="5" height="5"/>
<rect x="806.7" y="597.3" width="5" height="5"/>
<rect x="816.0" y="597.3" width="5" height="5"/>
<rect x="825.4" y="597.3" width="5" height="5"/>
<rect x="834.7" y="597.3" width="5" height="5"/>
<rect x="844.1" y="597.3" width="5" height="5"/>
<rect x="853.4" y="597.3" width="5" height="5"/>
<rect x="862.7" y="597.3" width="5" height="5"/>
<rect x="872.1" y="597.3" width="5" height="5"/>
<rect x="881.4" y="597.3" width="5" height="5"/>
<rect x="890.8" y="597.3" width="5" height="5"/>
<rect x="928.1" y="597.3" width="5" height="5"/>
<rect x="937.5" y="597.3" width="5" height="5"/>
<rect x="946.8" y="597.3" width="5" height="5"/>
<rect x="984.2" y="597.3" width="5" height="5"/>
<rect x="1012.2" y="597.3" width="5" height="5"/>
<rect x="778.7" y="618.6" width="5" height="5"/>
<rect x="788.0" y="618.6" width="5" height="5"/>
<rect x="806.7" y="618.6" width="5" height="5"/>
<rect x="816.0" y="618.6" width="5" height="5"/>
<rect x="834.7" y="618.6" width="5" height="5"/>
<rect x="844.1" y="618.6" width="5" height="5"/>
<rect x="853.4" y="618.6" width="5" height="5"/>
<rect x="862.7" y="618.6" width="5" height="5"/>
<rect x="890.8" y="618.6" width="5" height="5"/>
<rect x="900.1" y="618.6" width="5" height="5"/>
<rect x="909.4" y="618.6" width="5" height="5"/>
<rect x="918.8" y="618.6" width="5" height="5"/>
<rect x="928.1" y="618.6" width="5" height="5"/>
<rect x="946.8" y="618.6" width="5" height="5"/>
<rect x="956.1" y="618.6" width="5" height="5"/>
<rect x="965.5" y="618.6" width="5" height="5"/>
<rect x="974.8" y="618.6" width="5" height="5"/>
<rect x="984.2" y="618.6" width="5" height="5"/>
<rect x="993.5" y="618.6" width="5" height="5"/>
<rect x="1049.6" y="618.6" width="5" height="5"/>
<rect x="1208.4" y="448.1" width="5" height="5"/>
<rect x="1292.4" y="448.1" width="5" height="5"/>
<rect x="1105.6" y="469.4" width="5" height="5"/>
<rect x="1124.3" y="469.4" width="5" height="5"/>
<rect x="1255.1" y="469.4" width="5" height="5"/>
<rect x="1339.1" y="469.4" width="5" height="5"/>
<rect x="1077.6" y="490.7" width="5" height="5"/>
<rect x="1217.7" y="490.7" width="5" height="5"/>
<rect x="1227.0" y="490.7" width="5" height="5"/>
<rect x="1152.3" y="512.0" width="5" height="5"/>
<rect x="1199.0" y="512.0" width="5" height="5"/>
<rect x="1236.4" y="512.0" width="5" height="5"/>
<rect x="1264.4" y="512.0" width="5" height="5"/>
<rect x="1283.1" y="512.0" width="5" height="5"/>
<rect x="1329.8" y="512.0" width="5" height="5"/>
<rect x="1227.0" y="533.3" width="5" height="5"/>
<rect x="1245.7" y="533.3" width="5" height="5"/>
<rect x="1114.9" y="554.6" width="5" height="5"/>
<rect x="1124.3" y="554.6" width="5" height="5"/>
<rect x="1133.6" y="554.6" width="5" height="5"/>
<rect x="1161.6" y="554.6" width="5" height="5"/>
<rect x="1236.4" y="554.6" width="5" height="5"/>
<rect x="1273.7" y="554.6" width="5" height="5"/>
<rect x="1077.6" y="576.0" width="5" height="5"/>
<rect x="1105.6" y="576.0" width="5" height="5"/>
<rect x="1143.0" y="576.0" width="5" height="5"/>
<rect x="1152.3" y="576.0" width="5" height="5"/>
<rect x="1180.3" y="576.0" width="5" height="5"/>
<rect x="1096.3" y="597.3" width="5" height="5"/>
<rect x="1133.6" y="597.3" width="5" height="5"/>
<rect x="1143.0" y="597.3" width="5" height="5"/>
<rect x="1171.0" y="597.3" width="5" height="5"/>
<rect x="1189.7" y="597.3" width="5" height="5"/>
<rect x="1264.4" y="597.3" width="5" height="5"/>
<rect x="1096.3" y="618.6" width="5" height="5"/>
<rect x="1124.3" y="618.6" width="5" height="5"/>
<rect x="1152.3" y="618.6" width="5" height="5"/>
<rect x="1161.6" y="618.6" width="5" height="5"/>
<rect x="1199.0" y="618.6" width="5" height="5"/>
<rect x="1208.4" y="618.6" width="5" height="5"/>
<rect x="1292.4" y="618.6" width="5" height="5"/>
<rect x="1311.1" y="618.6" width="5" height="5"/>
<rect x="1320.4" y="618.6" width="5" height="5"/>
<rect x="180.8" y="639.9" width="5" height="5"/>
<rect x="190.2" y="639.9" width="5" height="5"/>
<rect x="199.5" y="639.9" width="5" height="5"/>
<rect x="208.9" y="639.9" width="5" height="5"/>
<rect x="218.2" y="639.9" width="5" height="5"/>
<rect x="227.5" y="639.9" width="5" height="5"/>
<rect x="236.9" y="639.9" width="5" height="5"/>
<rect x="246.2" y="639.9" width="5" height="5"/>
<rect x="255.6" y="639.9" width="5" height="5"/>
<rect x="264.9" y="639.9" width="5" height="5"/>
<rect x="274.3" y="639.9" width="5" height="5"/>
<rect x="283.6" y="639.9" width="5" height="5"/>
<rect x="292.9" y="639.9" width="5" height="5"/>
<rect x="302.3" y="639.9" width="5" height="5"/>
<rect x="321.0" y="639.9" width="5" height="5"/>
<rect x="330.3" y="639.9" width="5" height="5"/>
<rect x="339.6" y="639.9" width="5" height="5"/>
<rect x="349.0" y="639.9" width="5" height="5"/>
<rect x="358.3" y="639.9" width="5" height="5"/>
<rect x="367.7" y="639.9" width="5" height="5"/>
<rect x="377.0" y="639.9" width="5" height="5"/>
<rect x="405.0" y="639.9" width="5" height="5"/>
<rect x="414.4" y="639.9" width="5" height="5"/>
<rect x="433.0" y="639.9" width="5" height="5"/>
<rect x="442.4" y="639.9" width="5" height="5"/>
<rect x="451.7" y="639.9" width="5" height="5"/>
<rect x="461.1" y="639.9" width="5" height="5"/>
<rect x="470.4" y="639.9" width="5" height="5"/>
<rect x="180.8" y="661.2" width="5" height="5"/>
<rect x="190.2" y="661.2" width="5" height="5"/>
<rect x="218.2" y="661.2" width="5" height="5"/>
<rect x="227.5" y="661.2" width="5" height="5"/>
<rect x="236.9" y="661.2" width="5" height="5"/>
<rect x="246.2" y="661.2" width="5" height="5"/>
<rect x="255.6" y="661.2" width="5" height="5"/>
<rect x="274.3" y="661.2" width="5" height="5"/>
<rect x="283.6" y="661.2" width="5" height="5"/>
<rect x="292.9" y="661.2" width="5" height="5"/>
<rect x="302.3" y="661.2" width="5" height="5"/>
<rect x="321.0" y="661.2" width="5" height="5"/>
<rect x="330.3" y="661.2" width="5" height="5"/>
<rect x="339.6" y="661.2" width="5" height="5"/>
<rect x="349.0" y="661.2" width="5" height="5"/>
<rect x="395.7" y="661.2" width="5" height="5"/>
<rect x="405.0" y="661.2" width="5" height="5"/>
<rect x="414.4" y="661.2" width="5" height="5"/>
<rect x="423.7" y="661.2" width="5" height="5"/>
<rect x="433.0" y="661.2" width="5" height="5"/>
<rect x="442.4" y="661.2" width="5" height="5"/>
<rect x="451.7" y="661.2" width="5" height="5"/>
<rect x="461.1" y="661.2" width="5" height="5"/>
<rect x="470.4" y="661.2" width="5" height="5"/>
<rect x="180.8" y="682.5" width="5" height="5"/>
<rect x="190.2" y="682.5" width="5" height="5"/>
<rect x="218.2" y="682.5" width="5" height="5"/>
<rect x="236.9" y="682.5" width="5" height="5"/>
<rect x="246.2" y="682.5" width="5" height="5"/>
<rect x="255.6" y="682.5" width="5" height="5"/>
<rect x="292.9" y="682.5" width="5" height="5"/>
<rect x="302.3" y="682.5" width="5" height="5"/>
<rect x="311.6" y="682.5" width="5" height="5"/>
<rect x="330.3" y="682.5" width="5" height="5"/>
<rect x="349.0" y="682.5" width="5" height="5"/>
<rect x="358.3" y="682.5" width="5" height="5"/>
<rect x="367.7" y="682.5" width="5" height="5"/>
<rect x="377.0" y="682.5" width="5" height="5"/>
<rect x="386.3" y="682.5" width="5" height="5"/>
<rect x="395.7" y="682.5" width="5" height="5"/>
<rect x="405.0" y="682.5" width="5" height="5"/>
<rect x="423.7" y="682.5" width="5" height="5"/>
<rect x="433.0" y="682.5" width="5" height="5"/>
<rect x="451.7" y="682.5" width="5" height="5"/>
<rect x="470.4" y="682.5" width="5" height="5"/>
<rect x="190.2" y="703.8" width="5" height="5"/>
<rect x="199.5" y="703.8" width="5" height="5"/>
<rect x="218.2" y="703.8" width="5" height="5"/>
<rect x="246.2" y="703.8" width="5" height="5"/>
<rect x="255.6" y="703.8" width="5" height="5"/>
<rect x="264.9" y="703.8" width="5" height="5"/>
<rect x="274.3" y="703.8" width="5" height="5"/>
<rect x="283.6" y="703.8" width="5" height="5"/>
<rect x="292.9" y="703.8" width="5" height="5"/>
<rect x="311.6" y="703.8" width="5" height="5"/>
<rect x="321.0" y="703.8" width="5" height="5"/>
<rect x="330.3" y="703.8" width="5" height="5"/>
<rect x="339.6" y="703.8" width="5" height="5"/>
<rect x="358.3" y="703.8" width="5" height="5"/>
<rect x="395.7" y="703.8" width="5" height="5"/>
<rect x="405.0" y="703.8" width="5" height="5"/>
<rect x="414.4" y="703.8" width="5" height="5"/>
<rect x="423.7" y="703.8" width="5" height="5"/>
<rect x="433.0" y="703.8" width="5" height="5"/>
<rect x="451.7" y="703.8" width="5" height="5"/>
<rect x="180.8" y="725.1" width="5" height="5"/>
<rect x="199.5" y="725.1" width="5" height="5"/>
<rect x="236.9" y="725.1" width="5" height="5"/>
<rect x="302.3" y="725.1" width="5" height="5"/>
<rect x="321.0" y="725.1" width="5" height="5"/>
<rect x="330.3" y="725.1" width="5" height="5"/>
<rect x="349.0" y="725.1" width="5" height="5"/>
<rect x="395.7" y="725.1" width="5" height="5"/>
<rect x="414.4" y="725.1" width="5" height="5"/>
<rect x="433.0" y="725.1" width="5" height="5"/>
<rect x="461.1" y="725.1" width="5" height="5"/>
<rect x="199.5" y="746.4" width="5" height="5"/>
<rect x="208.9" y="746.4" width="5" height="5"/>
<rect x="227.5" y="746.4" width="5" height="5"/>
<rect x="246.2" y="746.4" width="5" height="5"/>
<rect x="311.6" y="746.4" width="5" height="5"/>
<rect x="180.8" y="767.7" width="5" height="5"/>
<rect x="386.3" y="767.7" width="5" height="5"/>
<rect x="423.7" y="767.7" width="5" height="5"/>
<rect x="489.1" y="639.9" width="5" height="5"/>
<rect x="498.4" y="639.9" width="5" height="5"/>
<rect x="517.1" y="639.9" width="5" height="5"/>
<rect x="526.5" y="639.9" width="5" height="5"/>
<rect x="535.8" y="639.9" width="5" height="5"/>
<rect x="545.1" y="639.9" width="5" height="5"/>
<rect x="554.5" y="639.9" width="5" height="5"/>
<rect x="563.8" y="639.9" width="5" height="5"/>
<rect x="582.5" y="639.9" width="5" height="5"/>
<rect x="601.2" y="639.9" width="5" height="5"/>
<rect x="610.5" y="639.9" width="5" height="5"/>
<rect x="638.5" y="639.9" width="5" height="5"/>
<rect x="647.9" y="639.9" width="5" height="5"/>
<rect x="657.2" y="639.9" width="5" height="5"/>
<rect x="675.9" y="639.9" width="5" height="5"/>
<rect x="703.9" y="639.9" width="5" height="5"/>
<rect x="769.3" y="639.9" width="5" height="5"/>
<rect x="479.8" y="661.2" width="5" height="5"/>
<rect x="489.1" y="661.2" width="5" height="5"/>
<rect x="498.4" y="661.2" width="5" height="5"/>
<rect x="517.1" y="661.2" width="5" height="5"/>
<rect x="535.8" y="661.2" width="5" height="5"/>
<rect x="545.1" y="661.2" width="5" height="5"/>
<rect x="554.5" y="661.2" width="5" height="5"/>
<rect x="563.8" y="661.2" width="5" height="5"/>
<rect x="573.2" y="661.2" width="5" height="5"/>
<rect x="582.5" y="661.2" width="5" height="5"/>
<rect x="591.8" y="661.2" width="5" height="5"/>
<rect x="601.2" y="661.2" width="5" height="5"/>
<rect x="610.5" y="661.2" width="5" height="5"/>
<rect x="629.2" y="661.2" width="5" height="5"/>
<rect x="647.9" y="661.2" width="5" height="5"/>
<rect x="666.6" y="661.2" width="5" height="5"/>
<rect x="675.9" y="661.2" width="5" height="5"/>
<rect x="685.3" y="661.2" width="5" height="5"/>
<rect x="713.3" y="661.2" width="5" height="5"/>
<rect x="722.6" y="661.2" width="5" height="5"/>
<rect x="732.0" y="661.2" width="5" height="5"/>
<rect x="741.3" y="661.2" width="5" height="5"/>
<rect x="750.6" y="661.2" width="5" height="5"/>
<rect x="760.0" y="661.2" width="5" height="5"/>
<rect x="507.8" y="682.5" width="5" height="5"/>
<rect x="526.5" y="682.5" width="5" height="5"/>
<rect x="535.8" y="682.5" width="5" height="5"/>
<rect x="563.8" y="682.5" width="5" height="5"/>
<rect x="573.2" y="682.5" width="5" height="5"/>
<rect x="582.5" y="682.5" width="5" height="5"/>
<rect x="591.8" y="682.5" width="5" height="5"/>
<rect x="601.2" y="682.5" width="5" height="5"/>
<rect x="619.9" y="682.5" width="5" height="5"/>
<rect x="629.2" y="682.5" width="5" height="5"/>
<rect x="638.5" y="682.5" width="5" height="5"/>
<rect x="647.9" y="682.5" width="5" height="5"/>
<rect x="657.2" y="682.5" width="5" height="5"/>
<rect x="694.6" y="682.5" width="5" height="5"/>
<rect x="703.9" y="682.5" width="5" height="5"/>
<rect x="713.3" y="682.5" width="5" height="5"/>
<rect x="732.0" y="682.5" width="5" height="5"/>
<rect x="769.3" y="682.5" width="5" height="5"/>
<rect x="526.5" y="703.8" width="5" height="5"/>
<rect x="535.8" y="703.8" width="5" height="5"/>
<rect x="554.5" y="703.8" width="5" height="5"/>
<rect x="563.8" y="703.8" width="5" height="5"/>
<rect x="601.2" y="703.8" width="5" height="5"/>
<rect x="629.2" y="703.8" width="5" height="5"/>
<rect x="675.9" y="703.8" width="5" height="5"/>
<rect x="685.3" y="703.8" width="5" height="5"/>
<rect x="713.3" y="703.8" width="5" height="5"/>
<rect x="722.6" y="703.8" width="5" height="5"/>
<rect x="732.0" y="703.8" width="5" height="5"/>
<rect x="750.6" y="703.8" width="5" height="5"/>
<rect x="545.1" y="725.1" width="5" height="5"/>
<rect x="554.5" y="725.1" width="5" height="5"/>
<rect x="563.8" y="725.1" width="5" height="5"/>
<rect x="573.2" y="725.1" width="5" height="5"/>
<rect x="582.5" y="725.1" width="5" height="5"/>
<rect x="591.8" y="725.1" width="5" height="5"/>
<rect x="619.9" y="725.1" width="5" height="5"/>
<rect x="629.2" y="725.1" width="5" height="5"/>
<rect x="638.5" y="725.1" width="5" height="5"/>
<rect x="675.9" y="725.1" width="5" height="5"/>
<rect x="713.3" y="725.1" width="5" height="5"/>
<rect x="741.3" y="725.1" width="5" height="5"/>
<rect x="760.0" y="725.1" width="5" height="5"/>
<rect x="479.8" y="746.4" width="5" height="5"/>
<rect x="489.1" y="746.4" width="5" height="5"/>
<rect x="610.5" y="746.4" width="5" height="5"/>
<rect x="666.6" y="746.4" width="5" height="5"/>
<rect x="675.9" y="746.4" width="5" height="5"/>
<rect x="703.9" y="746.4" width="5" height="5"/>
<rect x="685.3" y="767.7" width="5" height="5"/>
<rect x="694.6" y="767.7" width="5" height="5"/>
<rect x="788.0" y="639.9" width="5" height="5"/>
<rect x="797.3" y="639.9" width="5" height="5"/>
<rect x="806.7" y="639.9" width="5" height="5"/>
<rect x="825.4" y="639.9" width="5" height="5"/>
<rect x="844.1" y="639.9" width="5" height="5"/>
<rect x="853.4" y="639.9" width="5" height="5"/>
<rect x="872.1" y="639.9" width="5" height="5"/>
<rect x="881.4" y="639.9" width="5" height="5"/>
<rect x="890.8" y="639.9" width="5" height="5"/>
<rect x="909.4" y="639.9" width="5" height="5"/>
<rect x="918.8" y="639.9" width="5" height="5"/>
<rect x="937.5" y="639.9" width="5" height="5"/>
<rect x="946.8" y="639.9" width="5" height="5"/>
<rect x="956.1" y="639.9" width="5" height="5"/>
<rect x="965.5" y="639.9" width="5" height="5"/>
<rect x="974.8" y="639.9" width="5" height="5"/>
<rect x="993.5" y="639.9" width="5" height="5"/>
<rect x="1012.2" y="639.9" width="5" height="5"/>
<rect x="1021.5" y="639.9" width="5" height="5"/>
<rect x="1058.9" y="639.9" width="5" height="5"/>
<rect x="788.0" y="661.2" width="5" height="5"/>
<rect x="834.7" y="661.2" width="5" height="5"/>
<rect x="862.7" y="661.2" width="5" height="5"/>
<rect x="890.8" y="661.2" width="5" height="5"/>
<rect x="909.4" y="661.2" width="5" height="5"/>
<rect x="937.5" y="661.2" width="5" height="5"/>
<rect x="946.8" y="661.2" width="5" height="5"/>
<rect x="974.8" y="661.2" width="5" height="5"/>
<rect x="984.2" y="661.2" width="5" height="5"/>
<rect x="993.5" y="661.2" width="5" height="5"/>
<rect x="1002.8" y="661.2" width="5" height="5"/>
<rect x="778.7" y="682.5" width="5" height="5"/>
<rect x="788.0" y="682.5" width="5" height="5"/>
<rect x="797.3" y="682.5" width="5" height="5"/>
<rect x="806.7" y="682.5" width="5" height="5"/>
<rect x="816.0" y="682.5" width="5" height="5"/>
<rect x="834.7" y="682.5" width="5" height="5"/>
<rect x="853.4" y="682.5" width="5" height="5"/>
<rect x="872.1" y="682.5" width="5" height="5"/>
<rect x="881.4" y="682.5" width="5" height="5"/>
<rect x="928.1" y="682.5" width="5" height="5"/>
<rect x="946.8" y="682.5" width="5" height="5"/>
<rect x="965.5" y="682.5" width="5" height="5"/>
<rect x="1021.5" y="682.5" width="5" height="5"/>
<rect x="1058.9" y="682.5" width="5" height="5"/>
<rect x="778.7" y="703.8" width="5" height="5"/>
<rect x="788.0" y="703.8" width="5" height="5"/>
<rect x="806.7" y="703.8" width="5" height="5"/>
<rect x="825.4" y="703.8" width="5" height="5"/>
<rect x="862.7" y="703.8" width="5" height="5"/>
<rect x="928.1" y="703.8" width="5" height="5"/>
<rect x="937.5" y="703.8" width="5" height="5"/>
<rect x="788.0" y="725.1" width="5" height="5"/>
<rect x="816.0" y="725.1" width="5" height="5"/>
<rect x="844.1" y="725.1" width="5" height="5"/>
<rect x="853.4" y="725.1" width="5" height="5"/>
<rect x="862.7" y="725.1" width="5" height="5"/>
<rect x="872.1" y="725.1" width="5" height="5"/>
<rect x="900.1" y="725.1" width="5" height="5"/>
<rect x="909.4" y="725.1" width="5" height="5"/>
<rect x="778.7" y="746.4" width="5" height="5"/>
<rect x="862.7" y="746.4" width="5" height="5"/>
<rect x="881.4" y="746.4" width="5" height="5"/>
<rect x="937.5" y="746.4" width="5" height="5"/>
<rect x="862.7" y="767.7" width="5" height="5"/>
<rect x="1077.6" y="639.9" width="5" height="5"/>
<rect x="1180.3" y="639.9" width="5" height="5"/>
<rect x="1199.0" y="639.9" width="5" height="5"/>
<rect x="1217.7" y="639.9" width="5" height="5"/>
<rect x="1227.0" y="639.9" width="5" height="5"/>
<rect x="1236.4" y="639.9" width="5" height="5"/>
<rect x="1301.8" y="639.9" width="5" height="5"/>
<rect x="1189.7" y="661.2" width="5" height="5"/>
<rect x="1086.9" y="682.5" width="5" height="5"/>
<rect x="1255.1" y="682.5" width="5" height="5"/>
<rect x="1171.0" y="725.1" width="5" height="5"/>
<rect x="1283.1" y="725.1" width="5" height="5"/>
<rect x="302.4" y="517.2" width="5" height="5"/>
<rect x="395.2" y="519.3" width="5" height="5"/>
<rect x="451.4" y="580.9" width="5" height="5"/>
<rect x="591.8" y="521.5" width="5" height="5"/>
<rect x="647.9" y="539.1" width="5" height="5"/>
<rect x="638.9" y="549.1" width="5" height="5"/>
<rect x="497.8" y="614.9" width="5" height="5"/>
<rect x="515.8" y="611.7" width="5" height="5"/>
<rect x="610.3" y="623.4" width="5" height="5"/>
<rect x="862.6" y="602.1" width="5" height="5"/>
<rect x="386.7" y="632.2" width="5" height="5"/>
<rect x="581.6" y="672.5" width="5" height="5"/>
<rect x="620.5" y="696.5" width="5" height="5"/>
</g>
<path d="M185.6,588.7 C187.4,588.5 192.7,588.1 196.2,587.6 C199.7,587.1 203.2,586.2 206.7,585.5 C210.2,584.8 213.8,584.0 217.3,583.4 C220.8,582.8 224.4,582.4 227.9,581.9 C231.4,581.4 235.0,580.7 238.5,580.2 C242.0,579.7 245.5,579.5 249.0,579.1 C252.5,578.8 256.1,578.6 259.6,578.1 C263.1,577.6 266.7,576.7 270.2,576.0 C273.7,575.3 277.3,574.3 280.8,573.8 C284.3,573.3 287.9,573.2 291.4,572.8 C294.9,572.4 298.4,571.9 301.9,571.3 C305.4,570.7 309.0,569.8 312.5,569.2 C316.0,568.6 319.6,568.2 323.1,567.9 C326.6,567.5 330.2,567.4 333.7,567.1 C337.2,566.8 340.7,566.5 344.2,566.2 C347.7,565.9 351.3,565.5 354.8,565.4 C358.3,565.3 361.9,565.2 365.4,565.4 C368.9,565.6 372.5,565.9 376.0,566.4 C379.5,566.9 383.1,567.7 386.6,568.1 C390.1,568.5 393.6,568.8 397.1,569.0 C400.6,569.2 404.2,569.1 407.7,569.6 C411.2,570.1 414.8,571.1 418.3,571.7 C421.8,572.3 423.6,572.9 428.9,573.2 C434.2,573.5 443.1,573.4 450.0,573.4 C456.9,573.4 464.9,573.8 470.0,573.5 C475.1,573.2 477.1,572.2 480.6,571.8 C484.1,571.4 487.7,571.2 491.2,570.9 C494.7,570.5 498.2,570.1 501.7,569.7 C505.2,569.3 508.8,568.8 512.3,568.6 C515.8,568.5 519.4,568.5 522.9,568.8 C526.4,569.1 530.0,569.9 533.5,570.3 C537.0,570.7 540.5,571.1 544.0,571.3 C547.5,571.5 551.1,571.3 554.6,571.3 C558.1,571.3 561.7,571.3 565.2,571.3 C568.7,571.3 572.3,571.3 575.8,571.3 C579.3,571.3 582.9,571.5 586.4,571.3 C589.9,571.1 593.4,570.8 596.9,570.3 C600.4,569.8 604.0,568.9 607.5,568.2 C611.0,567.5 614.6,567.0 618.1,566.1 C621.6,565.2 625.2,564.0 628.7,562.9 C632.2,561.8 635.7,560.7 639.2,559.7 C642.7,558.7 646.3,557.9 649.8,557.0 C653.3,556.1 656.9,555.2 660.4,554.4 C663.9,553.5 667.5,552.9 671.0,551.9 C674.5,550.9 678.1,549.6 681.6,548.5 C685.1,547.4 688.6,546.4 692.1,545.5 C695.6,544.6 699.2,544.1 702.7,543.4 C706.2,542.7 709.8,541.8 713.3,541.3 C716.8,540.8 720.4,540.6 723.9,540.3 C727.4,539.9 730.9,539.5 734.4,539.2 C737.9,538.9 741.5,538.7 745.0,538.6 C748.5,538.5 752.1,538.4 755.6,538.6 C759.1,538.8 763.7,539.8 766.2,540.0 C768.7,540.2 768.1,539.9 770.6,540.0 C773.1,540.1 777.7,540.3 781.2,540.8 C784.7,541.3 788.2,542.2 791.7,542.9 C795.2,543.6 798.8,544.3 802.3,545.0 C805.8,545.7 809.4,546.6 812.9,547.2 C816.4,547.8 820.0,548.0 823.5,548.4 C827.0,548.8 830.5,549.0 834.0,549.3 C837.5,549.5 841.1,549.8 844.6,549.9 C848.1,550.0 851.7,549.9 855.2,549.9 C858.7,549.9 862.3,550.0 865.8,549.9 C869.3,549.8 872.9,549.6 876.4,549.3 C879.9,548.9 883.4,548.2 886.9,547.8 C890.4,547.4 894.0,547.2 897.5,546.7 C901.0,546.2 904.6,545.3 908.1,544.6 C911.6,543.9 915.2,543.3 918.7,542.5 C922.2,541.7 925.7,541.0 929.2,540.0 C932.7,539.0 936.3,537.8 939.8,536.6 C943.3,535.4 946.9,534.3 950.4,533.0 C953.9,531.7 957.5,530.3 961.0,528.8 C964.5,527.3 968.1,525.8 971.6,523.9 C975.1,522.0 978.6,519.5 982.1,517.1 C985.6,514.7 989.2,512.0 992.7,509.7 C996.2,507.4 999.8,505.4 1003.3,503.4 C1006.8,501.4 1010.4,499.6 1013.9,497.7 C1017.4,495.8 1020.9,493.8 1024.4,492.2 C1027.9,490.6 1031.5,489.0 1035.0,487.9 C1038.5,486.8 1042.8,485.9 1045.6,485.4 C1048.4,484.9 1048.6,485.4 1051.6,484.9 C1054.5,484.4 1059.4,482.9 1063.3,482.6 C1067.2,482.3 1071.0,482.8 1074.9,483.3 C1078.8,483.8 1082.6,484.8 1086.5,485.6 C1090.4,486.4 1094.3,487.1 1098.2,488.0 C1102.1,488.9 1105.9,489.6 1109.8,490.8 C1113.7,492.0 1117.6,493.6 1121.5,495.0 C1125.4,496.4 1129.2,497.6 1133.1,498.9 C1137.0,500.2 1140.8,501.7 1144.7,502.9 C1148.6,504.1 1152.5,505.3 1156.4,505.9 C1160.3,506.5 1164.1,506.5 1168.0,506.6 C1171.9,506.7 1175.7,506.6 1179.6,506.6 C1183.5,506.6 1187.4,506.7 1191.3,506.6 C1195.2,506.5 1199.0,506.6 1202.9,505.9 C1206.8,505.2 1210.6,503.7 1214.5,502.4 C1218.4,501.1 1222.3,499.8 1226.2,498.2 C1230.1,496.6 1233.9,494.9 1237.8,493.1 C1241.7,491.3 1245.5,489.4 1249.4,487.3 C1253.3,485.2 1257.2,483.0 1261.1,480.3 C1265.0,477.6 1268.8,473.9 1272.7,471.0 C1276.6,468.1 1280.5,465.6 1284.4,462.8 C1288.3,460.0 1292.1,456.9 1296.0,454.0 C1299.9,451.1 1303.7,448.6 1307.6,445.4 C1311.5,442.2 1315.4,438.2 1319.3,434.9 C1323.2,431.6 1327.0,428.8 1330.9,425.6 C1334.8,422.4 1339.6,418.2 1342.5,415.8 C1345.4,413.4 1347.4,412.0 1348.4,411.2" fill="none" stroke="#000" stroke-width="7" stroke-linejoin="round" stroke-linecap="round"/>
<g stroke="#2a2a2a" stroke-width="3" fill="none" stroke-linecap="square">
<path d="M179.5,1798.6 V925.6 H1387.4 V1798.6 H179.5"/>
<line x1="172.5" y1="1798.1" x2="179.5" y2="1798.1"/>
<line x1="172.5" y1="1743.5" x2="179.5" y2="1743.5"/>
<line x1="172.5" y1="1689.0" x2="179.5" y2="1689.0"/>
<line x1="164.5" y1="1634.4" x2="179.5" y2="1634.4"/>
<line x1="172.5" y1="1579.9" x2="179.5" y2="1579.9"/>
<line x1="172.5" y1="1525.3" x2="179.5" y2="1525.3"/>
<line x1="172.5" y1="1470.8" x2="179.5" y2="1470.8"/>
<line x1="164.5" y1="1416.2" x2="179.5" y2="1416.2"/>
<line x1="172.5" y1="1361.7" x2="179.5" y2="1361.7"/>
<line x1="172.5" y1="1307.1" x2="179.5" y2="1307.1"/>
<line x1="172.5" y1="1252.6" x2="179.5" y2="1252.6"/>
<line x1="164.5" y1="1198.0" x2="179.5" y2="1198.0"/>
<line x1="172.5" y1="1143.5" x2="179.5" y2="1143.5"/>
<line x1="172.5" y1="1088.9" x2="179.5" y2="1088.9"/>
<line x1="172.5" y1="1034.4" x2="179.5" y2="1034.4"/>
<line x1="164.5" y1="979.8" x2="179.5" y2="979.8"/>
<line x1="175.5" y1="925.3" x2="179.5" y2="925.3"/>
<line x1="178.9" y1="1798.6" x2="178.9" y2="1813.6"/>
<line x1="207.7" y1="1798.6" x2="207.7" y2="1806.1"/>
<line x1="236.4" y1="1798.6" x2="236.4" y2="1806.1"/>
<line x1="265.2" y1="1798.6" x2="265.2" y2="1806.1"/>
<line x1="294.0" y1="1798.6" x2="294.0" y2="1806.1"/>
<line x1="322.8" y1="1798.6" x2="322.8" y2="1806.1"/>
<line x1="351.5" y1="1798.6" x2="351.5" y2="1813.6"/>
<line x1="380.3" y1="1798.6" x2="380.3" y2="1806.1"/>
<line x1="409.1" y1="1798.6" x2="409.1" y2="1806.1"/>
<line x1="437.9" y1="1798.6" x2="437.9" y2="1806.1"/>
<line x1="466.6" y1="1798.6" x2="466.6" y2="1806.1"/>
<line x1="495.4" y1="1798.6" x2="495.4" y2="1806.1"/>
<line x1="524.2" y1="1798.6" x2="524.2" y2="1813.6"/>
<line x1="553.0" y1="1798.6" x2="553.0" y2="1806.1"/>
<line x1="581.7" y1="1798.6" x2="581.7" y2="1806.1"/>
<line x1="610.5" y1="1798.6" x2="610.5" y2="1806.1"/>
<line x1="639.3" y1="1798.6" x2="639.3" y2="1806.1"/>
<line x1="668.0" y1="1798.6" x2="668.0" y2="1806.1"/>
<line x1="696.8" y1="1798.6" x2="696.8" y2="1813.6"/>
<line x1="725.6" y1="1798.6" x2="725.6" y2="1806.1"/>
<line x1="754.4" y1="1798.6" x2="754.4" y2="1806.1"/>
<line x1="783.1" y1="1798.6" x2="783.1" y2="1806.1"/>
<line x1="811.9" y1="1798.6" x2="811.9" y2="1806.1"/>
<line x1="840.7" y1="1798.6" x2="840.7" y2="1806.1"/>
<line x1="869.5" y1="1798.6" x2="869.5" y2="1813.6"/>
<line x1="898.2" y1="1798.6" x2="898.2" y2="1806.1"/>
<line x1="927.0" y1="1798.6" x2="927.0" y2="1806.1"/>
<line x1="955.8" y1="1798.6" x2="955.8" y2="1806.1"/>
<line x1="984.6" y1="1798.6" x2="984.6" y2="1806.1"/>
<line x1="1013.3" y1="1798.6" x2="1013.3" y2="1806.1"/>
<line x1="1042.1" y1="1798.6" x2="1042.1" y2="1813.6"/>
<line x1="1070.9" y1="1798.6" x2="1070.9" y2="1806.1"/>
<line x1="1099.6" y1="1798.6" x2="1099.6" y2="1806.1"/>
<line x1="1128.4" y1="1798.6" x2="1128.4" y2="1806.1"/>
<line x1="1157.2" y1="1798.6" x2="1157.2" y2="1806.1"/>
<line x1="1186.0" y1="1798.6" x2="1186.0" y2="1806.1"/>
<line x1="1214.7" y1="1798.6" x2="1214.7" y2="1813.6"/>
<line x1="1243.5" y1="1798.6" x2="1243.5" y2="1806.1"/>
<line x1="1272.3" y1="1798.6" x2="1272.3" y2="1806.1"/>
<line x1="1301.1" y1="1798.6" x2="1301.1" y2="1806.1"/>
<line x1="1329.8" y1="1798.6" x2="1329.8" y2="1806.1"/>
<line x1="1358.6" y1="1798.6" x2="1358.6" y2="1806.1"/>
<line x1="1387.4" y1="1798.6" x2="1387.4" y2="1813.6"/>
</g>
<text font-family="Liberation Sans" font-size="30.00" fill="#1a1a1a" stroke="#1a1a1a" stroke-width="0.7" transform="translate(98.92,1647.40) scale(1.0681,1)" >0.01</text>
<text font-family="Liberation Sans" font-size="30.00" fill="#1a1a1a" stroke="#1a1a1a" stroke-width="0.7" transform="translate(98.92,1429.20) scale(1.0681,1)" >0.02</text>
<text font-family="Liberation Sans" font-size="30.00" fill="#1a1a1a" stroke="#1a1a1a" stroke-width="0.7" transform="translate(98.92,1211.00) scale(1.0681,1)" >0.03</text>
<text font-family="Liberation Sans" font-size="30.00" fill="#1a1a1a" stroke="#1a1a1a" stroke-width="0.7" transform="translate(98.92,992.80) scale(1.0681,1)" >0.04</text>
<text font-family="Liberation Sans" font-size="30.42" fill="#1a1a1a" stroke="#1a1a1a" stroke-width="0.7" transform="translate(173.36,1845.00) scale(1.0022,1)" >0</text>
<text font-family="Liberation Sans" font-size="30.42" fill="#1a1a1a" stroke="#1a1a1a" stroke-width="0.7" transform="translate(337.47,1845.00) scale(1.0022,1)" >20</text>
<text font-family="Liberation Sans" font-size="30.42" fill="#1a1a1a" stroke="#1a1a1a" stroke-width="0.7" transform="translate(510.56,1845.00) scale(1.0022,1)" >40</text>
<text font-family="Liberation Sans" font-size="30.42" fill="#1a1a1a" stroke="#1a1a1a" stroke-width="0.7" transform="translate(682.75,1845.00) scale(1.0022,1)" >60</text>
<text font-family="Liberation Sans" font-size="30.42" fill="#1a1a1a" stroke="#1a1a1a" stroke-width="0.7" transform="translate(855.54,1845.00) scale(1.0022,1)" >80</text>
<text font-family="Liberation Sans" font-size="30.42" fill="#1a1a1a" stroke="#1a1a1a" stroke-width="0.7" transform="translate(1019.03,1845.00) scale(1.0022,1)" >100</text>
<text font-family="Liberation Sans" font-size="30.42" fill="#1a1a1a" stroke="#1a1a1a" stroke-width="0.7" transform="translate(1191.67,1845.00) scale(1.0022,1)" >120</text>
<text font-family="Liberation Sans" font-size="30.42" fill="#1a1a1a" stroke="#1a1a1a" stroke-width="0.7" transform="translate(1364.31,1845.00) scale(1.0022,1)" >140</text>
<text font-family="Liberation Sans" font-size="26.38" fill="#1a1a1a" stroke="#1a1a1a" stroke-width="0.45" transform="translate(622.02,1887.26) scale(1.2233,1)" >Number of rings (days)</text>
<text font-family="Liberation Sans" font-size="29.79" fill="#1a1a1a" stroke="#1a1a1a" stroke-width="0.45" transform="translate(24.94,1394.56) rotate(-90) scale(0.9915,1)" >Daily</text>
<text font-family="Liberation Sans" font-size="30.43" fill="#1a1a1a" stroke="#1a1a1a" stroke-width="0.45" transform="translate(73.41,1464.24) rotate(-90) scale(0.9578,1)" >increment (mm)</text>
<text font-family="Liberation Serif" font-size="41.22" fill="#000" stroke="#000" stroke-width="0.45" transform="translate(209.52,991.04) scale(1.0198,1)" >(b)</text>
<g fill="#111">
<rect x="619.2" y="1087.8" width="6" height="5.5" rx="1"/>
<rect x="688.3" y="1153.2" width="6" height="5.5" rx="1"/>
<rect x="688.3" y="1175.0" width="6" height="5.5" rx="1"/>
<rect x="722.8" y="1175.0" width="6" height="5.5" rx="1"/>
<rect x="472.5" y="1196.8" width="6" height="5.5" rx="1"/>
<rect x="1033.6" y="978.6" width="6" height="5.5" rx="1"/>
<rect x="990.4" y="1022.3" width="6" height="5.5" rx="1"/>
<rect x="1111.3" y="1065.9" width="6" height="5.5" rx="1"/>
<rect x="1188.9" y="1087.8" width="6" height="5.5" rx="1"/>
<rect x="1076.7" y="1109.6" width="6" height="5.5" rx="1"/>
<rect x="809.1" y="1131.4" width="6" height="5.5" rx="1"/>
<rect x="835.0" y="1153.2" width="6" height="5.5" rx="1"/>
<rect x="990.4" y="1153.2" width="6" height="5.5" rx="1"/>
<rect x="1024.9" y="1153.2" width="6" height="5.5" rx="1"/>
<rect x="1085.4" y="1153.2" width="6" height="5.5" rx="1"/>
<rect x="1094.0" y="1153.2" width="6" height="5.5" rx="1"/>
<rect x="1102.6" y="1153.2" width="6" height="5.5" rx="1"/>
<rect x="1119.9" y="1153.2" width="6" height="5.5" rx="1"/>
<rect x="1024.9" y="1196.8" width="6" height="5.5" rx="1"/>
<rect x="1042.2" y="1196.8" width="6" height="5.5" rx="1"/>
<rect x="1068.1" y="1196.8" width="6" height="5.5" rx="1"/>
<rect x="1163.0" y="1196.8" width="6" height="5.5" rx="1"/>
<rect x="1292.5" y="1196.8" width="6" height="5.5" rx="1"/>
<rect x="213.5" y="1262.3" width="6" height="5.5" rx="1"/>
<rect x="230.8" y="1262.3" width="6" height="5.5" rx="1"/>
<rect x="239.4" y="1284.1" width="6" height="5.5" rx="1"/>
<rect x="256.7" y="1284.1" width="6" height="5.5" rx="1"/>
<rect x="368.9" y="1284.1" width="6" height="5.5" rx="1"/>
<rect x="403.4" y="1284.1" width="6" height="5.5" rx="1"/>
<rect x="213.5" y="1306.0" width="6" height="5.5" rx="1"/>
<rect x="291.2" y="1306.0" width="6" height="5.5" rx="1"/>
<rect x="308.5" y="1306.0" width="6" height="5.5" rx="1"/>
<rect x="213.5" y="1327.8" width="6" height="5.5" rx="1"/>
<rect x="222.2" y="1327.8" width="6" height="5.5" rx="1"/>
<rect x="256.7" y="1327.8" width="6" height="5.5" rx="1"/>
<rect x="299.8" y="1327.8" width="6" height="5.5" rx="1"/>
<rect x="386.2" y="1327.8" width="6" height="5.5" rx="1"/>
<rect x="394.8" y="1327.8" width="6" height="5.5" rx="1"/>
<rect x="429.3" y="1327.8" width="6" height="5.5" rx="1"/>
<rect x="463.9" y="1327.8" width="6" height="5.5" rx="1"/>
<rect x="204.9" y="1349.6" width="6" height="5.5" rx="1"/>
<rect x="420.7" y="1349.6" width="6" height="5.5" rx="1"/>
<rect x="265.3" y="1371.4" width="6" height="5.5" rx="1"/>
<rect x="282.6" y="1371.4" width="6" height="5.5" rx="1"/>
<rect x="299.8" y="1371.4" width="6" height="5.5" rx="1"/>
<rect x="360.3" y="1371.4" width="6" height="5.5" rx="1"/>
<rect x="386.2" y="1371.4" width="6" height="5.5" rx="1"/>
<rect x="438.0" y="1371.4" width="6" height="5.5" rx="1"/>
<rect x="455.2" y="1371.4" width="6" height="5.5" rx="1"/>
<rect x="550.2" y="1240.5" width="6" height="5.5" rx="1"/>
<rect x="558.8" y="1240.5" width="6" height="5.5" rx="1"/>
<rect x="627.9" y="1240.5" width="6" height="5.5" rx="1"/>
<rect x="740.1" y="1240.5" width="6" height="5.5" rx="1"/>
<rect x="567.4" y="1284.1" width="6" height="5.5" rx="1"/>
<rect x="576.1" y="1284.1" width="6" height="5.5" rx="1"/>
<rect x="602.0" y="1284.1" width="6" height="5.5" rx="1"/>
<rect x="627.9" y="1284.1" width="6" height="5.5" rx="1"/>
<rect x="645.1" y="1284.1" width="6" height="5.5" rx="1"/>
<rect x="722.8" y="1284.1" width="6" height="5.5" rx="1"/>
<rect x="740.1" y="1284.1" width="6" height="5.5" rx="1"/>
<rect x="766.0" y="1284.1" width="6" height="5.5" rx="1"/>
<rect x="774.6" y="1284.1" width="6" height="5.5" rx="1"/>
<rect x="783.2" y="1284.1" width="6" height="5.5" rx="1"/>
<rect x="532.9" y="1306.0" width="6" height="5.5" rx="1"/>
<rect x="636.5" y="1306.0" width="6" height="5.5" rx="1"/>
<rect x="671.0" y="1306.0" width="6" height="5.5" rx="1"/>
<rect x="679.7" y="1306.0" width="6" height="5.5" rx="1"/>
<rect x="550.2" y="1327.8" width="6" height="5.5" rx="1"/>
<rect x="602.0" y="1327.8" width="6" height="5.5" rx="1"/>
<rect x="619.2" y="1327.8" width="6" height="5.5" rx="1"/>
<rect x="645.1" y="1327.8" width="6" height="5.5" rx="1"/>
<rect x="653.8" y="1327.8" width="6" height="5.5" rx="1"/>
<rect x="714.2" y="1327.8" width="6" height="5.5" rx="1"/>
<rect x="507.0" y="1349.6" width="6" height="5.5" rx="1"/>
<rect x="593.3" y="1349.6" width="6" height="5.5" rx="1"/>
<rect x="645.1" y="1349.6" width="6" height="5.5" rx="1"/>
<rect x="679.7" y="1349.6" width="6" height="5.5" rx="1"/>
<rect x="705.6" y="1349.6" width="6" height="5.5" rx="1"/>
<rect x="783.2" y="1349.6" width="6" height="5.5" rx="1"/>
<rect x="567.4" y="1371.4" width="6" height="5.5" rx="1"/>
<rect x="602.0" y="1371.4" width="6" height="5.5" rx="1"/>
<rect x="619.2" y="1371.4" width="6" height="5.5" rx="1"/>
<rect x="636.5" y="1371.4" width="6" height="5.5" rx="1"/>
<rect x="653.8" y="1371.4" width="6" height="5.5" rx="1"/>
<rect x="679.7" y="1371.4" width="6" height="5.5" rx="1"/>
<rect x="688.3" y="1371.4" width="6" height="5.5" rx="1"/>
<rect x="705.6" y="1371.4" width="6" height="5.5" rx="1"/>
<rect x="714.2" y="1371.4" width="6" height="5.5" rx="1"/>
<rect x="722.8" y="1371.4" width="6" height="5.5" rx="1"/>
<rect x="731.4" y="1371.4" width="6" height="5.5" rx="1"/>
<rect x="740.1" y="1371.4" width="6" height="5.5" rx="1"/>
<rect x="748.7" y="1371.4" width="6" height="5.5" rx="1"/>
<rect x="774.6" y="1371.4" width="6" height="5.5" rx="1"/>
<rect x="809.1" y="1240.5" width="6" height="5.5" rx="1"/>
<rect x="1007.7" y="1240.5" width="6" height="5.5" rx="1"/>
<rect x="1016.3" y="1240.5" width="6" height="5.5" rx="1"/>
<rect x="1033.6" y="1240.5" width="6" height="5.5" rx="1"/>
<rect x="843.7" y="1262.3" width="6" height="5.5" rx="1"/>
<rect x="1050.8" y="1262.3" width="6" height="5.5" rx="1"/>
<rect x="826.4" y="1284.1" width="6" height="5.5" rx="1"/>
<rect x="869.6" y="1284.1" width="6" height="5.5" rx="1"/>
<rect x="886.8" y="1284.1" width="6" height="5.5" rx="1"/>
<rect x="938.6" y="1284.1" width="6" height="5.5" rx="1"/>
<rect x="999.0" y="1284.1" width="6" height="5.5" rx="1"/>
<rect x="1007.7" y="1284.1" width="6" height="5.5" rx="1"/>
<rect x="1016.3" y="1284.1" width="6" height="5.5" rx="1"/>
<rect x="1024.9" y="1284.1" width="6" height="5.5" rx="1"/>
<rect x="921.4" y="1306.0" width="6" height="5.5" rx="1"/>
<rect x="791.9" y="1327.8" width="6" height="5.5" rx="1"/>
<rect x="800.5" y="1327.8" width="6" height="5.5" rx="1"/>
<rect x="817.8" y="1327.8" width="6" height="5.5" rx="1"/>
<rect x="869.6" y="1327.8" width="6" height="5.5" rx="1"/>
<rect x="878.2" y="1327.8" width="6" height="5.5" rx="1"/>
<rect x="895.5" y="1327.8" width="6" height="5.5" rx="1"/>
<rect x="912.7" y="1327.8" width="6" height="5.5" rx="1"/>
<rect x="973.1" y="1327.8" width="6" height="5.5" rx="1"/>
<rect x="981.8" y="1327.8" width="6" height="5.5" rx="1"/>
<rect x="1016.3" y="1327.8" width="6" height="5.5" rx="1"/>
<rect x="1033.6" y="1327.8" width="6" height="5.5" rx="1"/>
<rect x="1042.2" y="1327.8" width="6" height="5.5" rx="1"/>
<rect x="800.5" y="1349.6" width="6" height="5.5" rx="1"/>
<rect x="817.8" y="1349.6" width="6" height="5.5" rx="1"/>
<rect x="852.3" y="1349.6" width="6" height="5.5" rx="1"/>
<rect x="886.8" y="1349.6" width="6" height="5.5" rx="1"/>
<rect x="921.4" y="1349.6" width="6" height="5.5" rx="1"/>
<rect x="955.9" y="1349.6" width="6" height="5.5" rx="1"/>
<rect x="1050.8" y="1349.6" width="6" height="5.5" rx="1"/>
<rect x="800.5" y="1371.4" width="6" height="5.5" rx="1"/>
<rect x="869.6" y="1371.4" width="6" height="5.5" rx="1"/>
<rect x="878.2" y="1371.4" width="6" height="5.5" rx="1"/>
<rect x="886.8" y="1371.4" width="6" height="5.5" rx="1"/>
<rect x="895.5" y="1371.4" width="6" height="5.5" rx="1"/>
<rect x="947.2" y="1371.4" width="6" height="5.5" rx="1"/>
<rect x="964.5" y="1371.4" width="6" height="5.5" rx="1"/>
<rect x="973.1" y="1371.4" width="6" height="5.5" rx="1"/>
<rect x="1007.7" y="1371.4" width="6" height="5.5" rx="1"/>
<rect x="1016.3" y="1371.4" width="6" height="5.5" rx="1"/>
<rect x="1171.7" y="1218.7" width="6" height="5.5" rx="1"/>
<rect x="1197.6" y="1284.1" width="6" height="5.5" rx="1"/>
<rect x="1163.0" y="1306.0" width="6" height="5.5" rx="1"/>
<rect x="1145.8" y="1327.8" width="6" height="5.5" rx="1"/>
<rect x="1171.7" y="1327.8" width="6" height="5.5" rx="1"/>
<rect x="1275.3" y="1327.8" width="6" height="5.5" rx="1"/>
<rect x="1111.3" y="1349.6" width="6" height="5.5" rx="1"/>
<rect x="1128.5" y="1371.4" width="6" height="5.5" rx="1"/>
<rect x="1137.2" y="1371.4" width="6" height="5.5" rx="1"/>
<rect x="1283.9" y="1371.4" width="6" height="5.5" rx="1"/>
<rect x="1327.1" y="1371.4" width="6" height="5.5" rx="1"/>
<rect x="334.4" y="1393.2" width="6" height="5.5" rx="1"/>
<rect x="351.6" y="1393.2" width="6" height="5.5" rx="1"/>
<rect x="360.3" y="1393.2" width="6" height="5.5" rx="1"/>
<rect x="429.3" y="1393.2" width="6" height="5.5" rx="1"/>
<rect x="472.5" y="1393.2" width="6" height="5.5" rx="1"/>
<rect x="248.1" y="1415.0" width="6" height="5.5" rx="1"/>
<rect x="282.6" y="1415.0" width="6" height="5.5" rx="1"/>
<rect x="299.8" y="1415.0" width="6" height="5.5" rx="1"/>
<rect x="317.1" y="1415.0" width="6" height="5.5" rx="1"/>
<rect x="325.7" y="1415.0" width="6" height="5.5" rx="1"/>
<rect x="334.4" y="1415.0" width="6" height="5.5" rx="1"/>
<rect x="368.9" y="1415.0" width="6" height="5.5" rx="1"/>
<rect x="377.5" y="1415.0" width="6" height="5.5" rx="1"/>
<rect x="394.8" y="1415.0" width="6" height="5.5" rx="1"/>
<rect x="420.7" y="1415.0" width="6" height="5.5" rx="1"/>
<rect x="429.3" y="1415.0" width="6" height="5.5" rx="1"/>
<rect x="455.2" y="1415.0" width="6" height="5.5" rx="1"/>
<rect x="472.5" y="1415.0" width="6" height="5.5" rx="1"/>
<rect x="481.1" y="1415.0" width="6" height="5.5" rx="1"/>
<rect x="187.6" y="1436.9" width="6" height="5.5" rx="1"/>
<rect x="248.1" y="1436.9" width="6" height="5.5" rx="1"/>
<rect x="265.3" y="1436.9" width="6" height="5.5" rx="1"/>
<rect x="377.5" y="1436.9" width="6" height="5.5" rx="1"/>
<rect x="472.5" y="1436.9" width="6" height="5.5" rx="1"/>
<rect x="230.8" y="1458.7" width="6" height="5.5" rx="1"/>
<rect x="282.6" y="1458.7" width="6" height="5.5" rx="1"/>
<rect x="291.2" y="1458.7" width="6" height="5.5" rx="1"/>
<rect x="308.5" y="1458.7" width="6" height="5.5" rx="1"/>
<rect x="325.7" y="1458.7" width="6" height="5.5" rx="1"/>
<rect x="360.3" y="1458.7" width="6" height="5.5" rx="1"/>
<rect x="368.9" y="1458.7" width="6" height="5.5" rx="1"/>
<rect x="386.2" y="1458.7" width="6" height="5.5" rx="1"/>
<rect x="394.8" y="1458.7" width="6" height="5.5" rx="1"/>
<rect x="429.3" y="1458.7" width="6" height="5.5" rx="1"/>
<rect x="455.2" y="1458.7" width="6" height="5.5" rx="1"/>
<rect x="472.5" y="1458.7" width="6" height="5.5" rx="1"/>
<rect x="481.1" y="1458.7" width="6" height="5.5" rx="1"/>
<rect x="196.3" y="1480.5" width="6" height="5.5" rx="1"/>
<rect x="222.2" y="1480.5" width="6" height="5.5" rx="1"/>
<rect x="239.4" y="1480.5" width="6" height="5.5" rx="1"/>
<rect x="256.7" y="1480.5" width="6" height="5.5" rx="1"/>
<rect x="265.3" y="1480.5" width="6" height="5.5" rx="1"/>
<rect x="274.0" y="1480.5" width="6" height="5.5" rx="1"/>
<rect x="308.5" y="1480.5" width="6" height="5.5" rx="1"/>
<rect x="325.7" y="1480.5" width="6" height="5.5" rx="1"/>
<rect x="334.4" y="1480.5" width="6" height="5.5" rx="1"/>
<rect x="343.0" y="1480.5" width="6" height="5.5" rx="1"/>
<rect x="351.6" y="1480.5" width="6" height="5.5" rx="1"/>
<rect x="455.2" y="1480.5" width="6" height="5.5" rx="1"/>
<rect x="463.9" y="1480.5" width="6" height="5.5" rx="1"/>
<rect x="481.1" y="1480.5" width="6" height="5.5" rx="1"/>
<rect x="187.6" y="1502.3" width="6" height="5.5" rx="1"/>
<rect x="213.5" y="1502.3" width="6" height="5.5" rx="1"/>
<rect x="222.2" y="1502.3" width="6" height="5.5" rx="1"/>
<rect x="230.8" y="1502.3" width="6" height="5.5" rx="1"/>
<rect x="248.1" y="1502.3" width="6" height="5.5" rx="1"/>
<rect x="274.0" y="1502.3" width="6" height="5.5" rx="1"/>
<rect x="291.2" y="1502.3" width="6" height="5.5" rx="1"/>
<rect x="299.8" y="1502.3" width="6" height="5.5" rx="1"/>
<rect x="308.5" y="1502.3" width="6" height="5.5" rx="1"/>
<rect x="317.1" y="1502.3" width="6" height="5.5" rx="1"/>
<rect x="325.7" y="1502.3" width="6" height="5.5" rx="1"/>
<rect x="343.0" y="1502.3" width="6" height="5.5" rx="1"/>
<rect x="377.5" y="1502.3" width="6" height="5.5" rx="1"/>
<rect x="386.2" y="1502.3" width="6" height="5.5" rx="1"/>
<rect x="403.4" y="1502.3" width="6" height="5.5" rx="1"/>
<rect x="412.1" y="1502.3" width="6" height="5.5" rx="1"/>
<rect x="420.7" y="1502.3" width="6" height="5.5" rx="1"/>
<rect x="438.0" y="1502.3" width="6" height="5.5" rx="1"/>
<rect x="446.6" y="1502.3" width="6" height="5.5" rx="1"/>
<rect x="455.2" y="1502.3" width="6" height="5.5" rx="1"/>
<rect x="463.9" y="1502.3" width="6" height="5.5" rx="1"/>
<rect x="481.1" y="1502.3" width="6" height="5.5" rx="1"/>
<rect x="187.6" y="1524.2" width="6" height="5.5" rx="1"/>
<rect x="222.2" y="1524.2" width="6" height="5.5" rx="1"/>
<rect x="256.7" y="1524.2" width="6" height="5.5" rx="1"/>
<rect x="274.0" y="1524.2" width="6" height="5.5" rx="1"/>
<rect x="282.6" y="1524.2" width="6" height="5.5" rx="1"/>
<rect x="299.8" y="1524.2" width="6" height="5.5" rx="1"/>
<rect x="308.5" y="1524.2" width="6" height="5.5" rx="1"/>
<rect x="317.1" y="1524.2" width="6" height="5.5" rx="1"/>
<rect x="325.7" y="1524.2" width="6" height="5.5" rx="1"/>
<rect x="334.4" y="1524.2" width="6" height="5.5" rx="1"/>
<rect x="351.6" y="1524.2" width="6" height="5.5" rx="1"/>
<rect x="360.3" y="1524.2" width="6" height="5.5" rx="1"/>
<rect x="368.9" y="1524.2" width="6" height="5.5" rx="1"/>
<rect x="377.5" y="1524.2" width="6" height="5.5" rx="1"/>
<rect x="386.2" y="1524.2" width="6" height="5.5" rx="1"/>
<rect x="394.8" y="1524.2" width="6" height="5.5" rx="1"/>
<rect x="412.1" y="1524.2" width="6" height="5.5" rx="1"/>
<rect x="438.0" y="1524.2" width="6" height="5.5" rx="1"/>
<rect x="446.6" y="1524.2" width="6" height="5.5" rx="1"/>
<rect x="455.2" y="1524.2" width="6" height="5.5" rx="1"/>
<rect x="481.1" y="1524.2" width="6" height="5.5" rx="1"/>
<rect x="187.6" y="1546.0" width="6" height="5.5" rx="1"/>
<rect x="196.3" y="1546.0" width="6" height="5.5" rx="1"/>
<rect x="204.9" y="1546.0" width="6" height="5.5" rx="1"/>
<rect x="256.7" y="1546.0" width="6" height="5.5" rx="1"/>
<rect x="265.3" y="1546.0" width="6" height="5.5" rx="1"/>
<rect x="274.0" y="1546.0" width="6" height="5.5" rx="1"/>
<rect x="291.2" y="1546.0" width="6" height="5.5" rx="1"/>
<rect x="299.8" y="1546.0" width="6" height="5.5" rx="1"/>
<rect x="308.5" y="1546.0" width="6" height="5.5" rx="1"/>
<rect x="325.7" y="1546.0" width="6" height="5.5" rx="1"/>
<rect x="334.4" y="1546.0" width="6" height="5.5" rx="1"/>
<rect x="343.0" y="1546.0" width="6" height="5.5" rx="1"/>
<rect x="360.3" y="1546.0" width="6" height="5.5" rx="1"/>
<rect x="368.9" y="1546.0" width="6" height="5.5" rx="1"/>
<rect x="377.5" y="1546.0" width="6" height="5.5" rx="1"/>
<rect x="386.2" y="1546.0" width="6" height="5.5" rx="1"/>
<rect x="394.8" y="1546.0" width="6" height="5.5" rx="1"/>
<rect x="403.4" y="1546.0" width="6" height="5.5" rx="1"/>
<rect x="412.1" y="1546.0" width="6" height="5.5" rx="1"/>
<rect x="420.7" y="1546.0" width="6" height="5.5" rx="1"/>
<rect x="438.0" y="1546.0" width="6" height="5.5" rx="1"/>
<rect x="446.6" y="1546.0" width="6" height="5.5" rx="1"/>
<rect x="463.9" y="1546.0" width="6" height="5.5" rx="1"/>
<rect x="472.5" y="1546.0" width="6" height="5.5" rx="1"/>
<rect x="481.1" y="1546.0" width="6" height="5.5" rx="1"/>
<rect x="515.6" y="1393.2" width="6" height="5.5" rx="1"/>
<rect x="541.5" y="1393.2" width="6" height="5.5" rx="1"/>
<rect x="550.2" y="1393.2" width="6" height="5.5" rx="1"/>
<rect x="558.8" y="1393.2" width="6" height="5.5" rx="1"/>
<rect x="610.6" y="1393.2" width="6" height="5.5" rx="1"/>
<rect x="627.9" y="1393.2" width="6" height="5.5" rx="1"/>
<rect x="645.1" y="1393.2" width="6" height="5.5" rx="1"/>
<rect x="653.8" y="1393.2" width="6" height="5.5" rx="1"/>
<rect x="671.0" y="1393.2" width="6" height="5.5" rx="1"/>
<rect x="714.2" y="1393.2" width="6" height="5.5" rx="1"/>
<rect x="740.1" y="1393.2" width="6" height="5.5" rx="1"/>
<rect x="748.7" y="1393.2" width="6" height="5.5" rx="1"/>
<rect x="489.8" y="1415.0" width="6" height="5.5" rx="1"/>
<rect x="498.4" y="1415.0" width="6" height="5.5" rx="1"/>
<rect x="507.0" y="1415.0" width="6" height="5.5" rx="1"/>
<rect x="515.6" y="1415.0" width="6" height="5.5" rx="1"/>
<rect x="532.9" y="1415.0" width="6" height="5.5" rx="1"/>
<rect x="541.5" y="1415.0" width="6" height="5.5" rx="1"/>
<rect x="558.8" y="1415.0" width="6" height="5.5" rx="1"/>
<rect x="567.4" y="1415.0" width="6" height="5.5" rx="1"/>
<rect x="576.1" y="1415.0" width="6" height="5.5" rx="1"/>
<rect x="584.7" y="1415.0" width="6" height="5.5" rx="1"/>
<rect x="610.6" y="1415.0" width="6" height="5.5" rx="1"/>
<rect x="636.5" y="1415.0" width="6" height="5.5" rx="1"/>
<rect x="662.4" y="1415.0" width="6" height="5.5" rx="1"/>
<rect x="679.7" y="1415.0" width="6" height="5.5" rx="1"/>
<rect x="688.3" y="1415.0" width="6" height="5.5" rx="1"/>
<rect x="696.9" y="1415.0" width="6" height="5.5" rx="1"/>
<rect x="731.4" y="1415.0" width="6" height="5.5" rx="1"/>
<rect x="748.7" y="1415.0" width="6" height="5.5" rx="1"/>
<rect x="757.3" y="1415.0" width="6" height="5.5" rx="1"/>
<rect x="783.2" y="1415.0" width="6" height="5.5" rx="1"/>
<rect x="524.3" y="1436.9" width="6" height="5.5" rx="1"/>
<rect x="541.5" y="1436.9" width="6" height="5.5" rx="1"/>
<rect x="567.4" y="1436.9" width="6" height="5.5" rx="1"/>
<rect x="576.1" y="1436.9" width="6" height="5.5" rx="1"/>
<rect x="610.6" y="1436.9" width="6" height="5.5" rx="1"/>
<rect x="653.8" y="1436.9" width="6" height="5.5" rx="1"/>
<rect x="662.4" y="1436.9" width="6" height="5.5" rx="1"/>
<rect x="679.7" y="1436.9" width="6" height="5.5" rx="1"/>
<rect x="696.9" y="1436.9" width="6" height="5.5" rx="1"/>
<rect x="489.8" y="1458.7" width="6" height="5.5" rx="1"/>
<rect x="498.4" y="1458.7" width="6" height="5.5" rx="1"/>
<rect x="507.0" y="1458.7" width="6" height="5.5" rx="1"/>
<rect x="524.3" y="1458.7" width="6" height="5.5" rx="1"/>
<rect x="532.9" y="1458.7" width="6" height="5.5" rx="1"/>
<rect x="541.5" y="1458.7" width="6" height="5.5" rx="1"/>
<rect x="567.4" y="1458.7" width="6" height="5.5" rx="1"/>
<rect x="584.7" y="1458.7" width="6" height="5.5" rx="1"/>
<rect x="593.3" y="1458.7" width="6" height="5.5" rx="1"/>
<rect x="610.6" y="1458.7" width="6" height="5.5" rx="1"/>
<rect x="619.2" y="1458.7" width="6" height="5.5" rx="1"/>
<rect x="645.1" y="1458.7" width="6" height="5.5" rx="1"/>
<rect x="662.4" y="1458.7" width="6" height="5.5" rx="1"/>
<rect x="671.0" y="1458.7" width="6" height="5.5" rx="1"/>
<rect x="696.9" y="1458.7" width="6" height="5.5" rx="1"/>
<rect x="705.6" y="1458.7" width="6" height="5.5" rx="1"/>
<rect x="740.1" y="1458.7" width="6" height="5.5" rx="1"/>
<rect x="748.7" y="1458.7" width="6" height="5.5" rx="1"/>
<rect x="757.3" y="1458.7" width="6" height="5.5" rx="1"/>
<rect x="783.2" y="1458.7" width="6" height="5.5" rx="1"/>
<rect x="524.3" y="1480.5" width="6" height="5.5" rx="1"/>
<rect x="576.1" y="1480.5" width="6" height="5.5" rx="1"/>
<rect x="593.3" y="1480.5" width="6" height="5.5" rx="1"/>
<rect x="602.0" y="1480.5" width="6" height="5.5" rx="1"/>
<rect x="653.8" y="1480.5" width="6" height="5.5" rx="1"/>
<rect x="714.2" y="1480.5" width="6" height="5.5" rx="1"/>
<rect x="731.4" y="1480.5" width="6" height="5.5" rx="1"/>
<rect x="740.1" y="1480.5" width="6" height="5.5" rx="1"/>
<rect x="748.7" y="1480.5" width="6" height="5.5" rx="1"/>
<rect x="766.0" y="1480.5" width="6" height="5.5" rx="1"/>
<rect x="783.2" y="1480.5" width="6" height="5.5" rx="1"/>
<rect x="489.8" y="1502.3" width="6" height="5.5" rx="1"/>
<rect x="498.4" y="1502.3" width="6" height="5.5" rx="1"/>
<rect x="524.3" y="1502.3" width="6" height="5.5" rx="1"/>
<rect x="532.9" y="1502.3" width="6" height="5.5" rx="1"/>
<rect x="541.5" y="1502.3" width="6" height="5.5" rx="1"/>
<rect x="550.2" y="1502.3" width="6" height="5.5" rx="1"/>
<rect x="558.8" y="1502.3" width="6" height="5.5" rx="1"/>
<rect x="602.0" y="1502.3" width="6" height="5.5" rx="1"/>
<rect x="610.6" y="1502.3" width="6" height="5.5" rx="1"/>
<rect x="619.2" y="1502.3" width="6" height="5.5" rx="1"/>
<rect x="627.9" y="1502.3" width="6" height="5.5" rx="1"/>
<rect x="645.1" y="1502.3" width="6" height="5.5" rx="1"/>
<rect x="653.8" y="1502.3" width="6" height="5.5" rx="1"/>
<rect x="662.4" y="1502.3" width="6" height="5.5" rx="1"/>
<rect x="671.0" y="1502.3" width="6" height="5.5" rx="1"/>
<rect x="679.7" y="1502.3" width="6" height="5.5" rx="1"/>
<rect x="688.3" y="1502.3" width="6" height="5.5" rx="1"/>
<rect x="696.9" y="1502.3" width="6" height="5.5" rx="1"/>
<rect x="714.2" y="1502.3" width="6" height="5.5" rx="1"/>
<rect x="722.8" y="1502.3" width="6" height="5.5" rx="1"/>
<rect x="740.1" y="1502.3" width="6" height="5.5" rx="1"/>
<rect x="748.7" y="1502.3" width="6" height="5.5" rx="1"/>
<rect x="766.0" y="1502.3" width="6" height="5.5" rx="1"/>
<rect x="489.8" y="1524.2" width="6" height="5.5" rx="1"/>
<rect x="532.9" y="1524.2" width="6" height="5.5" rx="1"/>
<rect x="558.8" y="1524.2" width="6" height="5.5" rx="1"/>
<rect x="593.3" y="1524.2" width="6" height="5.5" rx="1"/>
<rect x="602.0" y="1524.2" width="6" height="5.5" rx="1"/>
<rect x="610.6" y="1524.2" width="6" height="5.5" rx="1"/>
<rect x="619.2" y="1524.2" width="6" height="5.5" rx="1"/>
<rect x="627.9" y="1524.2" width="6" height="5.5" rx="1"/>
<rect x="645.1" y="1524.2" width="6" height="5.5" rx="1"/>
<rect x="696.9" y="1524.2" width="6" height="5.5" rx="1"/>
<rect x="714.2" y="1524.2" width="6" height="5.5" rx="1"/>
<rect x="722.8" y="1524.2" width="6" height="5.5" rx="1"/>
<rect x="731.4" y="1524.2" width="6" height="5.5" rx="1"/>
<rect x="740.1" y="1524.2" width="6" height="5.5" rx="1"/>
<rect x="757.3" y="1524.2" width="6" height="5.5" rx="1"/>
<rect x="766.0" y="1524.2" width="6" height="5.5" rx="1"/>
<rect x="774.6" y="1524.2" width="6" height="5.5" rx="1"/>
<rect x="783.2" y="1524.2" width="6" height="5.5" rx="1"/>
<rect x="507.0" y="1546.0" width="6" height="5.5" rx="1"/>
<rect x="515.6" y="1546.0" width="6" height="5.5" rx="1"/>
<rect x="524.3" y="1546.0" width="6" height="5.5" rx="1"/>
<rect x="532.9" y="1546.0" width="6" height="5.5" rx="1"/>
<rect x="558.8" y="1546.0" width="6" height="5.5" rx="1"/>
<rect x="576.1" y="1546.0" width="6" height="5.5" rx="1"/>
<rect x="584.7" y="1546.0" width="6" height="5.5" rx="1"/>
<rect x="602.0" y="1546.0" width="6" height="5.5" rx="1"/>
<rect x="610.6" y="1546.0" width="6" height="5.5" rx="1"/>
<rect x="619.2" y="1546.0" width="6" height="5.5" rx="1"/>
<rect x="627.9" y="1546.0" width="6" height="5.5" rx="1"/>
<rect x="636.5" y="1546.0" width="6" height="5.5" rx="1"/>
<rect x="653.8" y="1546.0" width="6" height="5.5" rx="1"/>
<rect x="671.0" y="1546.0" width="6" height="5.5" rx="1"/>
<rect x="679.7" y="1546.0" width="6" height="5.5" rx="1"/>
<rect x="688.3" y="1546.0" width="6" height="5.5" rx="1"/>
<rect x="705.6" y="1546.0" width="6" height="5.5" rx="1"/>
<rect x="714.2" y="1546.0" width="6" height="5.5" rx="1"/>
<rect x="731.4" y="1546.0" width="6" height="5.5" rx="1"/>
<rect x="757.3" y="1546.0" width="6" height="5.5" rx="1"/>
<rect x="774.6" y="1546.0" width="6" height="5.5" rx="1"/>
<rect x="800.5" y="1393.2" width="6" height="5.5" rx="1"/>
<rect x="860.9" y="1393.2" width="6" height="5.5" rx="1"/>
<rect x="869.6" y="1393.2" width="6" height="5.5" rx="1"/>
<rect x="878.2" y="1393.2" width="6" height="5.5" rx="1"/>
<rect x="895.5" y="1393.2" width="6" height="5.5" rx="1"/>
<rect x="912.7" y="1393.2" width="6" height="5.5" rx="1"/>
<rect x="921.4" y="1393.2" width="6" height="5.5" rx="1"/>
<rect x="955.9" y="1393.2" width="6" height="5.5" rx="1"/>
<rect x="964.5" y="1393.2" width="6" height="5.5" rx="1"/>
<rect x="999.0" y="1393.2" width="6" height="5.5" rx="1"/>
<rect x="791.9" y="1415.0" width="6" height="5.5" rx="1"/>
<rect x="800.5" y="1415.0" width="6" height="5.5" rx="1"/>
<rect x="860.9" y="1415.0" width="6" height="5.5" rx="1"/>
<rect x="886.8" y="1415.0" width="6" height="5.5" rx="1"/>
<rect x="904.1" y="1415.0" width="6" height="5.5" rx="1"/>
<rect x="912.7" y="1415.0" width="6" height="5.5" rx="1"/>
<rect x="947.2" y="1415.0" width="6" height="5.5" rx="1"/>
<rect x="990.4" y="1415.0" width="6" height="5.5" rx="1"/>
<rect x="1050.8" y="1415.0" width="6" height="5.5" rx="1"/>
<rect x="1068.1" y="1415.0" width="6" height="5.5" rx="1"/>
<rect x="1085.4" y="1415.0" width="6" height="5.5" rx="1"/>
<rect x="852.3" y="1436.9" width="6" height="5.5" rx="1"/>
<rect x="886.8" y="1436.9" width="6" height="5.5" rx="1"/>
<rect x="930.0" y="1436.9" width="6" height="5.5" rx="1"/>
<rect x="964.5" y="1436.9" width="6" height="5.5" rx="1"/>
<rect x="1059.5" y="1436.9" width="6" height="5.5" rx="1"/>
<rect x="791.9" y="1458.7" width="6" height="5.5" rx="1"/>
<rect x="817.8" y="1458.7" width="6" height="5.5" rx="1"/>
<rect x="835.0" y="1458.7" width="6" height="5.5" rx="1"/>
<rect x="843.7" y="1458.7" width="6" height="5.5" rx="1"/>
<rect x="852.3" y="1458.7" width="6" height="5.5" rx="1"/>
<rect x="878.2" y="1458.7" width="6" height="5.5" rx="1"/>
<rect x="921.4" y="1458.7" width="6" height="5.5" rx="1"/>
<rect x="938.6" y="1458.7" width="6" height="5.5" rx="1"/>
<rect x="955.9" y="1458.7" width="6" height="5.5" rx="1"/>
<rect x="981.8" y="1458.7" width="6" height="5.5" rx="1"/>
<rect x="999.0" y="1458.7" width="6" height="5.5" rx="1"/>
<rect x="1059.5" y="1458.7" width="6" height="5.5" rx="1"/>
<rect x="809.1" y="1480.5" width="6" height="5.5" rx="1"/>
<rect x="826.4" y="1480.5" width="6" height="5.5" rx="1"/>
<rect x="835.0" y="1480.5" width="6" height="5.5" rx="1"/>
<rect x="860.9" y="1480.5" width="6" height="5.5" rx="1"/>
<rect x="878.2" y="1480.5" width="6" height="5.5" rx="1"/>
<rect x="895.5" y="1480.5" width="6" height="5.5" rx="1"/>
<rect x="904.1" y="1480.5" width="6" height="5.5" rx="1"/>
<rect x="964.5" y="1480.5" width="6" height="5.5" rx="1"/>
<rect x="973.1" y="1480.5" width="6" height="5.5" rx="1"/>
<rect x="1007.7" y="1480.5" width="6" height="5.5" rx="1"/>
<rect x="1016.3" y="1480.5" width="6" height="5.5" rx="1"/>
<rect x="1024.9" y="1480.5" width="6" height="5.5" rx="1"/>
<rect x="791.9" y="1502.3" width="6" height="5.5" rx="1"/>
<rect x="800.5" y="1502.3" width="6" height="5.5" rx="1"/>
<rect x="809.1" y="1502.3" width="6" height="5.5" rx="1"/>
<rect x="878.2" y="1502.3" width="6" height="5.5" rx="1"/>
<rect x="886.8" y="1502.3" width="6" height="5.5" rx="1"/>
<rect x="895.5" y="1502.3" width="6" height="5.5" rx="1"/>
<rect x="904.1" y="1502.3" width="6" height="5.5" rx="1"/>
<rect x="912.7" y="1502.3" width="6" height="5.5" rx="1"/>
<rect x="921.4" y="1502.3" width="6" height="5.5" rx="1"/>
<rect x="930.0" y="1502.3" width="6" height="5.5" rx="1"/>
<rect x="955.9" y="1502.3" width="6" height="5.5" rx="1"/>
<rect x="990.4" y="1502.3" width="6" height="5.5" rx="1"/>
<rect x="1050.8" y="1502.3" width="6" height="5.5" rx="1"/>
<rect x="1068.1" y="1502.3" width="6" height="5.5" rx="1"/>
<rect x="809.1" y="1524.2" width="6" height="5.5" rx="1"/>
<rect x="826.4" y="1524.2" width="6" height="5.5" rx="1"/>
<rect x="843.7" y="1524.2" width="6" height="5.5" rx="1"/>
<rect x="852.3" y="1524.2" width="6" height="5.5" rx="1"/>
<rect x="860.9" y="1524.2" width="6" height="5.5" rx="1"/>
<rect x="869.6" y="1524.2" width="6" height="5.5" rx="1"/>
<rect x="878.2" y="1524.2" width="6" height="5.5" rx="1"/>
<rect x="886.8" y="1524.2" width="6" height="5.5" rx="1"/>
<rect x="895.5" y="1524.2" width="6" height="5.5" rx="1"/>
<rect x="912.7" y="1524.2" width="6" height="5.5" rx="1"/>
<rect x="921.4" y="1524.2" width="6" height="5.5" rx="1"/>
<rect x="938.6" y="1524.2" width="6" height="5.5" rx="1"/>
<rect x="955.9" y="1524.2" width="6" height="5.5" rx="1"/>
<rect x="973.1" y="1524.2" width="6" height="5.5" rx="1"/>
<rect x="981.8" y="1524.2" width="6" height="5.5" rx="1"/>
<rect x="999.0" y="1524.2" width="6" height="5.5" rx="1"/>
<rect x="1016.3" y="1524.2" width="6" height="5.5" rx="1"/>
<rect x="1033.6" y="1524.2" width="6" height="5.5" rx="1"/>
<rect x="1042.2" y="1524.2" width="6" height="5.5" rx="1"/>
<rect x="1068.1" y="1524.2" width="6" height="5.5" rx="1"/>
<rect x="791.9" y="1546.0" width="6" height="5.5" rx="1"/>
<rect x="809.1" y="1546.0" width="6" height="5.5" rx="1"/>
<rect x="817.8" y="1546.0" width="6" height="5.5" rx="1"/>
<rect x="835.0" y="1546.0" width="6" height="5.5" rx="1"/>
<rect x="843.7" y="1546.0" width="6" height="5.5" rx="1"/>
<rect x="852.3" y="1546.0" width="6" height="5.5" rx="1"/>
<rect x="860.9" y="1546.0" width="6" height="5.5" rx="1"/>
<rect x="869.6" y="1546.0" width="6" height="5.5" rx="1"/>
<rect x="878.2" y="1546.0" width="6" height="5.5" rx="1"/>
<rect x="886.8" y="1546.0" width="6" height="5.5" rx="1"/>
<rect x="895.5" y="1546.0" width="6" height="5.5" rx="1"/>
<rect x="904.1" y="1546.0" width="6" height="5.5" rx="1"/>
<rect x="930.0" y="1546.0" width="6" height="5.5" rx="1"/>
<rect x="938.6" y="1546.0" width="6" height="5.5" rx="1"/>
<rect x="947.2" y="1546.0" width="6" height="5.5" rx="1"/>
<rect x="964.5" y="1546.0" width="6" height="5.5" rx="1"/>
<rect x="1033.6" y="1546.0" width="6" height="5.5" rx="1"/>
<rect x="1042.2" y="1546.0" width="6" height="5.5" rx="1"/>
<rect x="1059.5" y="1546.0" width="6" height="5.5" rx="1"/>
<rect x="1076.7" y="1546.0" width="6" height="5.5" rx="1"/>
<rect x="1154.4" y="1393.2" width="6" height="5.5" rx="1"/>
<rect x="1119.9" y="1415.0" width="6" height="5.5" rx="1"/>
<rect x="1128.5" y="1415.0" width="6" height="5.5" rx="1"/>
<rect x="1301.2" y="1415.0" width="6" height="5.5" rx="1"/>
<rect x="1335.7" y="1415.0" width="6" height="5.5" rx="1"/>
<rect x="1180.3" y="1480.5" width="6" height="5.5" rx="1"/>
<rect x="1137.2" y="1502.3" width="6" height="5.5" rx="1"/>
<rect x="1206.2" y="1502.3" width="6" height="5.5" rx="1"/>
<rect x="1223.5" y="1502.3" width="6" height="5.5" rx="1"/>
<rect x="1119.9" y="1524.2" width="6" height="5.5" rx="1"/>
<rect x="1128.5" y="1524.2" width="6" height="5.5" rx="1"/>
<rect x="1154.4" y="1524.2" width="6" height="5.5" rx="1"/>
<rect x="1258.0" y="1524.2" width="6" height="5.5" rx="1"/>
<rect x="1232.1" y="1546.0" width="6" height="5.5" rx="1"/>
<rect x="1309.8" y="1546.0" width="6" height="5.5" rx="1"/>
<rect x="1344.3" y="1546.0" width="6" height="5.5" rx="1"/>
<rect x="1353.0" y="1546.0" width="6" height="5.5" rx="1"/>
<rect x="187.6" y="1567.8" width="6" height="5.5" rx="1"/>
<rect x="196.3" y="1567.8" width="6" height="5.5" rx="1"/>
<rect x="204.9" y="1567.8" width="6" height="5.5" rx="1"/>
<rect x="213.5" y="1567.8" width="6" height="5.5" rx="1"/>
<rect x="222.2" y="1567.8" width="6" height="5.5" rx="1"/>
<rect x="230.8" y="1567.8" width="6" height="5.5" rx="1"/>
<rect x="239.4" y="1567.8" width="6" height="5.5" rx="1"/>
<rect x="248.1" y="1567.8" width="6" height="5.5" rx="1"/>
<rect x="256.7" y="1567.8" width="6" height="5.5" rx="1"/>
<rect x="265.3" y="1567.8" width="6" height="5.5" rx="1"/>
<rect x="282.6" y="1567.8" width="6" height="5.5" rx="1"/>
<rect x="308.5" y="1567.8" width="6" height="5.5" rx="1"/>
<rect x="317.1" y="1567.8" width="6" height="5.5" rx="1"/>
<rect x="325.7" y="1567.8" width="6" height="5.5" rx="1"/>
<rect x="343.0" y="1567.8" width="6" height="5.5" rx="1"/>
<rect x="351.6" y="1567.8" width="6" height="5.5" rx="1"/>
<rect x="368.9" y="1567.8" width="6" height="5.5" rx="1"/>
<rect x="386.2" y="1567.8" width="6" height="5.5" rx="1"/>
<rect x="403.4" y="1567.8" width="6" height="5.5" rx="1"/>
<rect x="420.7" y="1567.8" width="6" height="5.5" rx="1"/>
<rect x="429.3" y="1567.8" width="6" height="5.5" rx="1"/>
<rect x="438.0" y="1567.8" width="6" height="5.5" rx="1"/>
<rect x="455.2" y="1567.8" width="6" height="5.5" rx="1"/>
<rect x="463.9" y="1567.8" width="6" height="5.5" rx="1"/>
<rect x="187.6" y="1589.6" width="6" height="5.5" rx="1"/>
<rect x="196.3" y="1589.6" width="6" height="5.5" rx="1"/>
<rect x="222.2" y="1589.6" width="6" height="5.5" rx="1"/>
<rect x="239.4" y="1589.6" width="6" height="5.5" rx="1"/>
<rect x="248.1" y="1589.6" width="6" height="5.5" rx="1"/>
<rect x="256.7" y="1589.6" width="6" height="5.5" rx="1"/>
<rect x="265.3" y="1589.6" width="6" height="5.5" rx="1"/>
<rect x="274.0" y="1589.6" width="6" height="5.5" rx="1"/>
<rect x="282.6" y="1589.6" width="6" height="5.5" rx="1"/>
<rect x="291.2" y="1589.6" width="6" height="5.5" rx="1"/>
<rect x="299.8" y="1589.6" width="6" height="5.5" rx="1"/>
<rect x="308.5" y="1589.6" width="6" height="5.5" rx="1"/>
<rect x="351.6" y="1589.6" width="6" height="5.5" rx="1"/>
<rect x="360.3" y="1589.6" width="6" height="5.5" rx="1"/>
<rect x="377.5" y="1589.6" width="6" height="5.5" rx="1"/>
<rect x="394.8" y="1589.6" width="6" height="5.5" rx="1"/>
<rect x="403.4" y="1589.6" width="6" height="5.5" rx="1"/>
<rect x="412.1" y="1589.6" width="6" height="5.5" rx="1"/>
<rect x="420.7" y="1589.6" width="6" height="5.5" rx="1"/>
<rect x="429.3" y="1589.6" width="6" height="5.5" rx="1"/>
<rect x="438.0" y="1589.6" width="6" height="5.5" rx="1"/>
<rect x="446.6" y="1589.6" width="6" height="5.5" rx="1"/>
<rect x="455.2" y="1589.6" width="6" height="5.5" rx="1"/>
<rect x="463.9" y="1589.6" width="6" height="5.5" rx="1"/>
<rect x="472.5" y="1589.6" width="6" height="5.5" rx="1"/>
<rect x="196.3" y="1611.4" width="6" height="5.5" rx="1"/>
<rect x="204.9" y="1611.4" width="6" height="5.5" rx="1"/>
<rect x="213.5" y="1611.4" width="6" height="5.5" rx="1"/>
<rect x="222.2" y="1611.4" width="6" height="5.5" rx="1"/>
<rect x="230.8" y="1611.4" width="6" height="5.5" rx="1"/>
<rect x="239.4" y="1611.4" width="6" height="5.5" rx="1"/>
<rect x="248.1" y="1611.4" width="6" height="5.5" rx="1"/>
<rect x="265.3" y="1611.4" width="6" height="5.5" rx="1"/>
<rect x="274.0" y="1611.4" width="6" height="5.5" rx="1"/>
<rect x="282.6" y="1611.4" width="6" height="5.5" rx="1"/>
<rect x="291.2" y="1611.4" width="6" height="5.5" rx="1"/>
<rect x="308.5" y="1611.4" width="6" height="5.5" rx="1"/>
<rect x="317.1" y="1611.4" width="6" height="5.5" rx="1"/>
<rect x="325.7" y="1611.4" width="6" height="5.5" rx="1"/>
<rect x="334.4" y="1611.4" width="6" height="5.5" rx="1"/>
<rect x="343.0" y="1611.4" width="6" height="5.5" rx="1"/>
<rect x="360.3" y="1611.4" width="6" height="5.5" rx="1"/>
<rect x="368.9" y="1611.4" width="6" height="5.5" rx="1"/>
<rect x="377.5" y="1611.4" width="6" height="5.5" rx="1"/>
<rect x="386.2" y="1611.4" width="6" height="5.5" rx="1"/>
<rect x="394.8" y="1611.4" width="6" height="5.5" rx="1"/>
<rect x="403.4" y="1611.4" width="6" height="5.5" rx="1"/>
<rect x="412.1" y="1611.4" width="6" height="5.5" rx="1"/>
<rect x="420.7" y="1611.4" width="6" height="5.5" rx="1"/>
<rect x="429.3" y="1611.4" width="6" height="5.5" rx="1"/>
<rect x="438.0" y="1611.4" width="6" height="5.5" rx="1"/>
<rect x="446.6" y="1611.4" width="6" height="5.5" rx="1"/>
<rect x="455.2" y="1611.4" width="6" height="5.5" rx="1"/>
<rect x="472.5" y="1611.4" width="6" height="5.5" rx="1"/>
<rect x="204.9" y="1633.2" width="6" height="5.5" rx="1"/>
<rect x="213.5" y="1633.2" width="6" height="5.5" rx="1"/>
<rect x="230.8" y="1633.2" width="6" height="5.5" rx="1"/>
<rect x="248.1" y="1633.2" width="6" height="5.5" rx="1"/>
<rect x="274.0" y="1633.2" width="6" height="5.5" rx="1"/>
<rect x="308.5" y="1633.2" width="6" height="5.5" rx="1"/>
<rect x="334.4" y="1633.2" width="6" height="5.5" rx="1"/>
<rect x="351.6" y="1633.2" width="6" height="5.5" rx="1"/>
<rect x="368.9" y="1633.2" width="6" height="5.5" rx="1"/>
<rect x="412.1" y="1633.2" width="6" height="5.5" rx="1"/>
<rect x="420.7" y="1633.2" width="6" height="5.5" rx="1"/>
<rect x="429.3" y="1633.2" width="6" height="5.5" rx="1"/>
<rect x="446.6" y="1633.2" width="6" height="5.5" rx="1"/>
<rect x="463.9" y="1633.2" width="6" height="5.5" rx="1"/>
<rect x="481.1" y="1633.2" width="6" height="5.5" rx="1"/>
<rect x="187.6" y="1655.1" width="6" height="5.5" rx="1"/>
<rect x="196.3" y="1655.1" width="6" height="5.5" rx="1"/>
<rect x="204.9" y="1655.1" width="6" height="5.5" rx="1"/>
<rect x="213.5" y="1655.1" width="6" height="5.5" rx="1"/>
<rect x="222.2" y="1655.1" width="6" height="5.5" rx="1"/>
<rect x="230.8" y="1655.1" width="6" height="5.5" rx="1"/>
<rect x="239.4" y="1655.1" width="6" height="5.5" rx="1"/>
<rect x="248.1" y="1655.1" width="6" height="5.5" rx="1"/>
<rect x="299.8" y="1655.1" width="6" height="5.5" rx="1"/>
<rect x="334.4" y="1655.1" width="6" height="5.5" rx="1"/>
<rect x="343.0" y="1655.1" width="6" height="5.5" rx="1"/>
<rect x="368.9" y="1655.1" width="6" height="5.5" rx="1"/>
<rect x="394.8" y="1655.1" width="6" height="5.5" rx="1"/>
<rect x="403.4" y="1655.1" width="6" height="5.5" rx="1"/>
<rect x="446.6" y="1655.1" width="6" height="5.5" rx="1"/>
<rect x="463.9" y="1655.1" width="6" height="5.5" rx="1"/>
<rect x="204.9" y="1676.9" width="6" height="5.5" rx="1"/>
<rect x="222.2" y="1676.9" width="6" height="5.5" rx="1"/>
<rect x="230.8" y="1676.9" width="6" height="5.5" rx="1"/>
<rect x="256.7" y="1676.9" width="6" height="5.5" rx="1"/>
<rect x="317.1" y="1676.9" width="6" height="5.5" rx="1"/>
<rect x="377.5" y="1676.9" width="6" height="5.5" rx="1"/>
<rect x="438.0" y="1676.9" width="6" height="5.5" rx="1"/>
<rect x="472.5" y="1676.9" width="6" height="5.5" rx="1"/>
<rect x="481.1" y="1676.9" width="6" height="5.5" rx="1"/>
<rect x="265.3" y="1698.7" width="6" height="5.5" rx="1"/>
<rect x="394.8" y="1698.7" width="6" height="5.5" rx="1"/>
<rect x="489.8" y="1567.8" width="6" height="5.5" rx="1"/>
<rect x="498.4" y="1567.8" width="6" height="5.5" rx="1"/>
<rect x="507.0" y="1567.8" width="6" height="5.5" rx="1"/>
<rect x="524.3" y="1567.8" width="6" height="5.5" rx="1"/>
<rect x="567.4" y="1567.8" width="6" height="5.5" rx="1"/>
<rect x="584.7" y="1567.8" width="6" height="5.5" rx="1"/>
<rect x="593.3" y="1567.8" width="6" height="5.5" rx="1"/>
<rect x="602.0" y="1567.8" width="6" height="5.5" rx="1"/>
<rect x="636.5" y="1567.8" width="6" height="5.5" rx="1"/>
<rect x="645.1" y="1567.8" width="6" height="5.5" rx="1"/>
<rect x="653.8" y="1567.8" width="6" height="5.5" rx="1"/>
<rect x="662.4" y="1567.8" width="6" height="5.5" rx="1"/>
<rect x="671.0" y="1567.8" width="6" height="5.5" rx="1"/>
<rect x="679.7" y="1567.8" width="6" height="5.5" rx="1"/>
<rect x="696.9" y="1567.8" width="6" height="5.5" rx="1"/>
<rect x="705.6" y="1567.8" width="6" height="5.5" rx="1"/>
<rect x="714.2" y="1567.8" width="6" height="5.5" rx="1"/>
<rect x="731.4" y="1567.8" width="6" height="5.5" rx="1"/>
<rect x="766.0" y="1567.8" width="6" height="5.5" rx="1"/>
<rect x="774.6" y="1567.8" width="6" height="5.5" rx="1"/>
<rect x="489.8" y="1589.6" width="6" height="5.5" rx="1"/>
<rect x="498.4" y="1589.6" width="6" height="5.5" rx="1"/>
<rect x="507.0" y="1589.6" width="6" height="5.5" rx="1"/>
<rect x="524.3" y="1589.6" width="6" height="5.5" rx="1"/>
<rect x="532.9" y="1589.6" width="6" height="5.5" rx="1"/>
<rect x="541.5" y="1589.6" width="6" height="5.5" rx="1"/>
<rect x="550.2" y="1589.6" width="6" height="5.5" rx="1"/>
<rect x="558.8" y="1589.6" width="6" height="5.5" rx="1"/>
<rect x="567.4" y="1589.6" width="6" height="5.5" rx="1"/>
<rect x="610.6" y="1589.6" width="6" height="5.5" rx="1"/>
<rect x="636.5" y="1589.6" width="6" height="5.5" rx="1"/>
<rect x="653.8" y="1589.6" width="6" height="5.5" rx="1"/>
<rect x="662.4" y="1589.6" width="6" height="5.5" rx="1"/>
<rect x="671.0" y="1589.6" width="6" height="5.5" rx="1"/>
<rect x="688.3" y="1589.6" width="6" height="5.5" rx="1"/>
<rect x="696.9" y="1589.6" width="6" height="5.5" rx="1"/>
<rect x="705.6" y="1589.6" width="6" height="5.5" rx="1"/>
<rect x="722.8" y="1589.6" width="6" height="5.5" rx="1"/>
<rect x="748.7" y="1589.6" width="6" height="5.5" rx="1"/>
<rect x="757.3" y="1589.6" width="6" height="5.5" rx="1"/>
<rect x="766.0" y="1589.6" width="6" height="5.5" rx="1"/>
<rect x="774.6" y="1589.6" width="6" height="5.5" rx="1"/>
<rect x="783.2" y="1589.6" width="6" height="5.5" rx="1"/>
<rect x="498.4" y="1611.4" width="6" height="5.5" rx="1"/>
<rect x="507.0" y="1611.4" width="6" height="5.5" rx="1"/>
<rect x="515.6" y="1611.4" width="6" height="5.5" rx="1"/>
<rect x="524.3" y="1611.4" width="6" height="5.5" rx="1"/>
<rect x="541.5" y="1611.4" width="6" height="5.5" rx="1"/>
<rect x="558.8" y="1611.4" width="6" height="5.5" rx="1"/>
<rect x="567.4" y="1611.4" width="6" height="5.5" rx="1"/>
<rect x="576.1" y="1611.4" width="6" height="5.5" rx="1"/>
<rect x="584.7" y="1611.4" width="6" height="5.5" rx="1"/>
<rect x="627.9" y="1611.4" width="6" height="5.5" rx="1"/>
<rect x="636.5" y="1611.4" width="6" height="5.5" rx="1"/>
<rect x="645.1" y="1611.4" width="6" height="5.5" rx="1"/>
<rect x="653.8" y="1611.4" width="6" height="5.5" rx="1"/>
<rect x="662.4" y="1611.4" width="6" height="5.5" rx="1"/>
<rect x="688.3" y="1611.4" width="6" height="5.5" rx="1"/>
<rect x="696.9" y="1611.4" width="6" height="5.5" rx="1"/>
<rect x="722.8" y="1611.4" width="6" height="5.5" rx="1"/>
<rect x="731.4" y="1611.4" width="6" height="5.5" rx="1"/>
<rect x="740.1" y="1611.4" width="6" height="5.5" rx="1"/>
<rect x="748.7" y="1611.4" width="6" height="5.5" rx="1"/>
<rect x="489.8" y="1633.2" width="6" height="5.5" rx="1"/>
<rect x="498.4" y="1633.2" width="6" height="5.5" rx="1"/>
<rect x="515.6" y="1633.2" width="6" height="5.5" rx="1"/>
<rect x="541.5" y="1633.2" width="6" height="5.5" rx="1"/>
<rect x="550.2" y="1633.2" width="6" height="5.5" rx="1"/>
<rect x="567.4" y="1633.2" width="6" height="5.5" rx="1"/>
<rect x="576.1" y="1633.2" width="6" height="5.5" rx="1"/>
<rect x="584.7" y="1633.2" width="6" height="5.5" rx="1"/>
<rect x="593.3" y="1633.2" width="6" height="5.5" rx="1"/>
<rect x="627.9" y="1633.2" width="6" height="5.5" rx="1"/>
<rect x="679.7" y="1633.2" width="6" height="5.5" rx="1"/>
<rect x="722.8" y="1633.2" width="6" height="5.5" rx="1"/>
<rect x="731.4" y="1633.2" width="6" height="5.5" rx="1"/>
<rect x="740.1" y="1633.2" width="6" height="5.5" rx="1"/>
<rect x="489.8" y="1655.1" width="6" height="5.5" rx="1"/>
<rect x="498.4" y="1655.1" width="6" height="5.5" rx="1"/>
<rect x="558.8" y="1655.1" width="6" height="5.5" rx="1"/>
<rect x="576.1" y="1655.1" width="6" height="5.5" rx="1"/>
<rect x="645.1" y="1655.1" width="6" height="5.5" rx="1"/>
<rect x="671.0" y="1655.1" width="6" height="5.5" rx="1"/>
<rect x="688.3" y="1655.1" width="6" height="5.5" rx="1"/>
<rect x="705.6" y="1655.1" width="6" height="5.5" rx="1"/>
<rect x="722.8" y="1655.1" width="6" height="5.5" rx="1"/>
<rect x="766.0" y="1655.1" width="6" height="5.5" rx="1"/>
<rect x="774.6" y="1655.1" width="6" height="5.5" rx="1"/>
<rect x="783.2" y="1655.1" width="6" height="5.5" rx="1"/>
<rect x="567.4" y="1676.9" width="6" height="5.5" rx="1"/>
<rect x="593.3" y="1676.9" width="6" height="5.5" rx="1"/>
<rect x="645.1" y="1676.9" width="6" height="5.5" rx="1"/>
<rect x="550.2" y="1720.5" width="6" height="5.5" rx="1"/>
<rect x="791.9" y="1567.8" width="6" height="5.5" rx="1"/>
<rect x="800.5" y="1567.8" width="6" height="5.5" rx="1"/>
<rect x="809.1" y="1567.8" width="6" height="5.5" rx="1"/>
<rect x="826.4" y="1567.8" width="6" height="5.5" rx="1"/>
<rect x="843.7" y="1567.8" width="6" height="5.5" rx="1"/>
<rect x="860.9" y="1567.8" width="6" height="5.5" rx="1"/>
<rect x="869.6" y="1567.8" width="6" height="5.5" rx="1"/>
<rect x="895.5" y="1567.8" width="6" height="5.5" rx="1"/>
<rect x="904.1" y="1567.8" width="6" height="5.5" rx="1"/>
<rect x="912.7" y="1567.8" width="6" height="5.5" rx="1"/>
<rect x="930.0" y="1567.8" width="6" height="5.5" rx="1"/>
<rect x="938.6" y="1567.8" width="6" height="5.5" rx="1"/>
<rect x="947.2" y="1567.8" width="6" height="5.5" rx="1"/>
<rect x="955.9" y="1567.8" width="6" height="5.5" rx="1"/>
<rect x="981.8" y="1567.8" width="6" height="5.5" rx="1"/>
<rect x="990.4" y="1567.8" width="6" height="5.5" rx="1"/>
<rect x="999.0" y="1567.8" width="6" height="5.5" rx="1"/>
<rect x="1007.7" y="1567.8" width="6" height="5.5" rx="1"/>
<rect x="1042.2" y="1567.8" width="6" height="5.5" rx="1"/>
<rect x="1085.4" y="1567.8" width="6" height="5.5" rx="1"/>
<rect x="800.5" y="1589.6" width="6" height="5.5" rx="1"/>
<rect x="835.0" y="1589.6" width="6" height="5.5" rx="1"/>
<rect x="843.7" y="1589.6" width="6" height="5.5" rx="1"/>
<rect x="852.3" y="1589.6" width="6" height="5.5" rx="1"/>
<rect x="860.9" y="1589.6" width="6" height="5.5" rx="1"/>
<rect x="886.8" y="1589.6" width="6" height="5.5" rx="1"/>
<rect x="895.5" y="1589.6" width="6" height="5.5" rx="1"/>
<rect x="904.1" y="1589.6" width="6" height="5.5" rx="1"/>
<rect x="912.7" y="1589.6" width="6" height="5.5" rx="1"/>
<rect x="930.0" y="1589.6" width="6" height="5.5" rx="1"/>
<rect x="938.6" y="1589.6" width="6" height="5.5" rx="1"/>
<rect x="964.5" y="1589.6" width="6" height="5.5" rx="1"/>
<rect x="990.4" y="1589.6" width="6" height="5.5" rx="1"/>
<rect x="999.0" y="1589.6" width="6" height="5.5" rx="1"/>
<rect x="1024.9" y="1589.6" width="6" height="5.5" rx="1"/>
<rect x="1050.8" y="1589.6" width="6" height="5.5" rx="1"/>
<rect x="1085.4" y="1589.6" width="6" height="5.5" rx="1"/>
<rect x="791.9" y="1611.4" width="6" height="5.5" rx="1"/>
<rect x="817.8" y="1611.4" width="6" height="5.5" rx="1"/>
<rect x="826.4" y="1611.4" width="6" height="5.5" rx="1"/>
<rect x="860.9" y="1611.4" width="6" height="5.5" rx="1"/>
<rect x="869.6" y="1611.4" width="6" height="5.5" rx="1"/>
<rect x="930.0" y="1611.4" width="6" height="5.5" rx="1"/>
<rect x="947.2" y="1611.4" width="6" height="5.5" rx="1"/>
<rect x="981.8" y="1611.4" width="6" height="5.5" rx="1"/>
<rect x="1016.3" y="1611.4" width="6" height="5.5" rx="1"/>
<rect x="1059.5" y="1611.4" width="6" height="5.5" rx="1"/>
<rect x="1068.1" y="1611.4" width="6" height="5.5" rx="1"/>
<rect x="791.9" y="1633.2" width="6" height="5.5" rx="1"/>
<rect x="800.5" y="1633.2" width="6" height="5.5" rx="1"/>
<rect x="809.1" y="1633.2" width="6" height="5.5" rx="1"/>
<rect x="817.8" y="1633.2" width="6" height="5.5" rx="1"/>
<rect x="826.4" y="1633.2" width="6" height="5.5" rx="1"/>
<rect x="835.0" y="1633.2" width="6" height="5.5" rx="1"/>
<rect x="843.7" y="1633.2" width="6" height="5.5" rx="1"/>
<rect x="860.9" y="1633.2" width="6" height="5.5" rx="1"/>
<rect x="912.7" y="1633.2" width="6" height="5.5" rx="1"/>
<rect x="938.6" y="1633.2" width="6" height="5.5" rx="1"/>
<rect x="955.9" y="1633.2" width="6" height="5.5" rx="1"/>
<rect x="973.1" y="1633.2" width="6" height="5.5" rx="1"/>
<rect x="1007.7" y="1633.2" width="6" height="5.5" rx="1"/>
<rect x="1042.2" y="1633.2" width="6" height="5.5" rx="1"/>
<rect x="809.1" y="1655.1" width="6" height="5.5" rx="1"/>
<rect x="817.8" y="1655.1" width="6" height="5.5" rx="1"/>
<rect x="826.4" y="1655.1" width="6" height="5.5" rx="1"/>
<rect x="878.2" y="1655.1" width="6" height="5.5" rx="1"/>
<rect x="904.1" y="1655.1" width="6" height="5.5" rx="1"/>
<rect x="912.7" y="1655.1" width="6" height="5.5" rx="1"/>
<rect x="921.4" y="1655.1" width="6" height="5.5" rx="1"/>
<rect x="930.0" y="1655.1" width="6" height="5.5" rx="1"/>
<rect x="938.6" y="1655.1" width="6" height="5.5" rx="1"/>
<rect x="947.2" y="1655.1" width="6" height="5.5" rx="1"/>
<rect x="955.9" y="1655.1" width="6" height="5.5" rx="1"/>
<rect x="1024.9" y="1655.1" width="6" height="5.5" rx="1"/>
<rect x="1050.8" y="1655.1" width="6" height="5.5" rx="1"/>
<rect x="852.3" y="1676.9" width="6" height="5.5" rx="1"/>
<rect x="921.4" y="1676.9" width="6" height="5.5" rx="1"/>
<rect x="930.0" y="1676.9" width="6" height="5.5" rx="1"/>
<rect x="895.5" y="1698.7" width="6" height="5.5" rx="1"/>
<rect x="930.0" y="1698.7" width="6" height="5.5" rx="1"/>
<rect x="1068.1" y="1720.5" width="6" height="5.5" rx="1"/>
<rect x="1076.7" y="1720.5" width="6" height="5.5" rx="1"/>
<rect x="1145.8" y="1567.8" width="6" height="5.5" rx="1"/>
<rect x="1163.0" y="1567.8" width="6" height="5.5" rx="1"/>
<rect x="1188.9" y="1567.8" width="6" height="5.5" rx="1"/>
<rect x="1240.7" y="1567.8" width="6" height="5.5" rx="1"/>
<rect x="1137.2" y="1589.6" width="6" height="5.5" rx="1"/>
<rect x="1145.8" y="1589.6" width="6" height="5.5" rx="1"/>
<rect x="1154.4" y="1589.6" width="6" height="5.5" rx="1"/>
<rect x="1214.8" y="1589.6" width="6" height="5.5" rx="1"/>
<rect x="1111.3" y="1611.4" width="6" height="5.5" rx="1"/>
<rect x="1171.7" y="1633.2" width="6" height="5.5" rx="1"/>
<rect x="1094.0" y="1655.1" width="6" height="5.5" rx="1"/>
<rect x="1102.6" y="1655.1" width="6" height="5.5" rx="1"/>
<rect x="1111.3" y="1655.1" width="6" height="5.5" rx="1"/>
<rect x="1145.8" y="1676.9" width="6" height="5.5" rx="1"/>
<rect x="1249.4" y="1676.9" width="6" height="5.5" rx="1"/>
<rect x="1094.0" y="1698.7" width="6" height="5.5" rx="1"/>
<rect x="1102.6" y="1698.7" width="6" height="5.5" rx="1"/>
<rect x="1154.4" y="1698.7" width="6" height="5.5" rx="1"/>
<rect x="1119.9" y="1720.5" width="6" height="5.5" rx="1"/>
<rect x="1163.0" y="1720.5" width="6" height="5.5" rx="1"/>
<rect x="1128.5" y="1742.3" width="6" height="5.5" rx="1"/>
<rect x="403.3" y="1420.2" width="6" height="5.5" rx="1"/>
<rect x="299.0" y="1513.0" width="6" height="5.5" rx="1"/>
<rect x="429.2" y="1556.2" width="6" height="5.5" rx="1"/>
<rect x="756.6" y="1427.8" width="6" height="5.5" rx="1"/>
<rect x="568.2" y="1485.7" width="6" height="5.5" rx="1"/>
<rect x="748.4" y="1513.0" width="6" height="5.5" rx="1"/>
<rect x="628.7" y="1507.7" width="6" height="5.5" rx="1"/>
<rect x="524.0" y="1542.2" width="6" height="5.5" rx="1"/>
<rect x="964.1" y="1534.7" width="6" height="5.5" rx="1"/>
<rect x="343.9" y="1582.3" width="6" height="5.5" rx="1"/>
<rect x="413.0" y="1606.2" width="6" height="5.5" rx="1"/>
<rect x="274.9" y="1642.8" width="6" height="5.5" rx="1"/>
<rect x="309.8" y="1645.7" width="6" height="5.5" rx="1"/>
<rect x="437.8" y="1669.2" width="6" height="5.5" rx="1"/>
<rect x="532.6" y="1573.2" width="6" height="5.5" rx="1"/>
<rect x="636.2" y="1581.8" width="6" height="5.5" rx="1"/>
<rect x="540.8" y="1650.3" width="6" height="5.5" rx="1"/>
<rect x="972.3" y="1580.2" width="6" height="5.5" rx="1"/>
<rect x="922.0" y="1630.5" width="6" height="5.5" rx="1"/>
</g>
<path d="M190.5,1558.5 C193.0,1557.8 199.5,1556.3 205.6,1554.6 C211.7,1552.9 220.0,1550.1 227.2,1548.2 C234.4,1546.3 241.5,1544.8 248.7,1543.4 C255.9,1542.0 263.1,1541.0 270.3,1540.0 C277.5,1539.0 284.7,1537.9 291.9,1537.4 C299.1,1536.9 306.3,1537.1 313.5,1536.9 C320.7,1536.7 327.9,1536.3 335.1,1536.3 C342.3,1536.3 349.4,1536.5 356.6,1536.9 C363.8,1537.3 371.0,1538.1 378.2,1538.5 C385.4,1538.9 392.6,1539.0 399.8,1539.5 C407.0,1540.0 414.2,1541.5 421.4,1541.7 C428.6,1541.9 435.8,1541.3 443.0,1540.6 C450.2,1539.9 456.7,1538.7 464.5,1537.4 C472.3,1536.2 482.8,1534.2 490.0,1533.1 C497.2,1532.0 501.1,1532.5 507.6,1530.9 C514.1,1529.3 522.0,1525.8 529.2,1523.3 C536.4,1520.8 543.5,1518.3 550.7,1515.8 C557.9,1513.3 565.1,1510.4 572.3,1508.2 C579.5,1506.0 586.7,1504.8 593.9,1502.8 C601.1,1500.8 608.3,1497.9 615.5,1495.9 C622.7,1493.9 629.9,1492.0 637.1,1491.0 C644.3,1490.0 651.4,1490.3 658.6,1489.9 C665.8,1489.5 673.0,1489.0 680.2,1488.8 C687.4,1488.6 694.6,1488.4 701.8,1488.8 C709.0,1489.2 716.2,1490.4 723.4,1491.0 C730.6,1491.6 737.8,1491.8 745.0,1492.5 C752.2,1493.2 758.7,1494.1 766.5,1495.3 C774.3,1496.5 784.8,1498.7 792.0,1499.6 C799.2,1500.5 803.1,1499.9 809.6,1500.7 C816.1,1501.5 824.0,1503.5 831.2,1504.6 C838.4,1505.7 845.5,1506.3 852.7,1507.2 C859.9,1508.1 867.1,1509.2 874.3,1509.8 C881.5,1510.4 888.7,1510.8 895.9,1511.0 C903.1,1511.2 910.3,1511.7 917.5,1511.0 C924.7,1510.3 931.9,1508.8 939.1,1506.7 C946.3,1504.6 953.4,1502.0 960.6,1498.5 C967.8,1495.0 975.0,1490.3 982.2,1485.6 C989.4,1480.9 998.4,1473.9 1003.8,1470.5 C1009.2,1467.1 1011.0,1466.5 1014.6,1465.1 C1018.2,1463.7 1020.0,1463.6 1025.4,1462.3 C1030.8,1461.0 1039.8,1458.3 1047.0,1457.5 C1054.2,1456.7 1060.7,1457.2 1068.5,1457.5 C1076.3,1457.8 1086.8,1458.6 1094.0,1459.3 C1101.2,1460.0 1105.1,1460.8 1111.6,1461.8 C1118.1,1462.8 1126.0,1464.1 1133.2,1465.1 C1140.4,1466.1 1147.5,1467.4 1154.7,1467.9 C1161.9,1468.4 1169.1,1468.2 1176.3,1468.3 C1183.5,1468.4 1190.7,1468.3 1197.9,1468.3 C1205.1,1468.3 1212.3,1468.3 1219.5,1468.3 C1226.7,1468.3 1235.7,1468.6 1241.1,1468.3 C1246.5,1468.0 1248.2,1466.8 1251.8,1466.2 C1255.4,1465.6 1257.2,1465.1 1262.6,1464.4 C1268.0,1463.8 1277.0,1463.0 1284.2,1462.3 C1291.4,1461.6 1298.6,1460.5 1305.8,1460.1 C1313.0,1459.7 1319.5,1460.0 1327.4,1460.1 C1335.3,1460.2 1349.0,1460.7 1353.3,1460.8" fill="none" stroke="#000" stroke-opacity="0.53" stroke-width="8" stroke-linejoin="round" stroke-linecap="round"/>
</g>
</svg></body></html>
